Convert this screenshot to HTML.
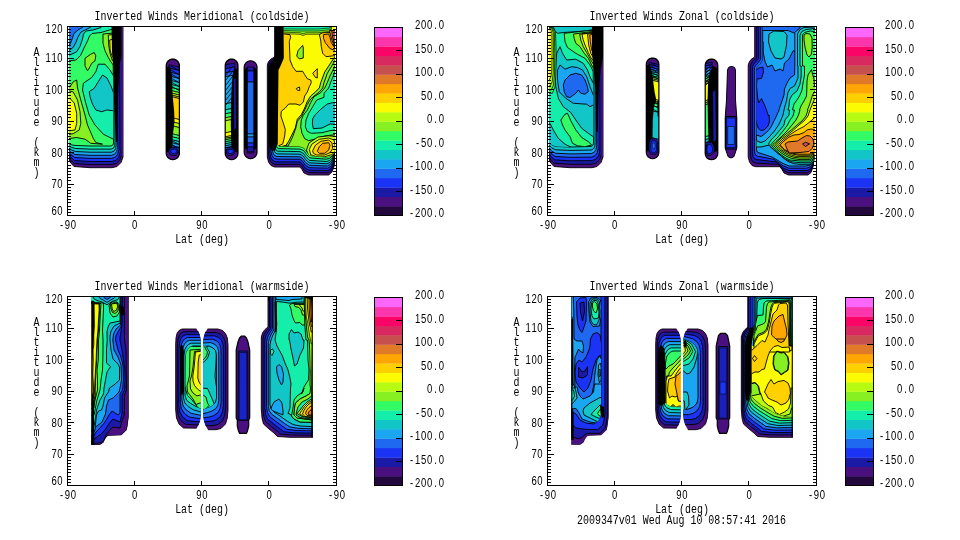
<!DOCTYPE html>
<html><head><meta charset="utf-8"><title>Inverted Winds</title>
<style>html,body{margin:0;padding:0;background:#fff;}svg{display:block;}text{font-family:"Liberation Mono",monospace;font-size:12.4px;fill:#000;filter:grayscale(1);}text.n{font-family:"Liberation Sans",sans-serif;font-size:12.2px;}</style></head><body>
<svg width="960" height="540" viewBox="0 0 960 540">
<rect width="960" height="540" fill="#fff"/>
<clipPath id="clip_TL"><rect x="69" y="27" width="266" height="188"/></clipPath>
<g clip-path="url(#clip_TL)">
<path d="M60.0 20.0L123.0 20.0L123.0 157.0L121.0 162.5L117.0 166.5L112.0 167.7L90.0 167.7L74.0 166.5L70.0 162.0L67.0 155.0L60.0 150.0Z" fill="#4a1080" stroke="#000" stroke-width="0.9" stroke-linejoin="round"/>
<path d="M60.0 20.0L121.6 20.0L121.6 154.6L119.9 159.7L116.4 163.4L111.9 164.6L90.0 164.6L74.3 163.5L70.3 159.6L67.0 153.3L60.0 148.7Z" fill="#1a1aa6" stroke="#000" stroke-width="0.9" stroke-linejoin="round"/>
<path d="M60.0 20.0L120.1 20.0L120.3 152.1L118.9 156.9L115.9 160.4L111.7 161.5L90.0 161.5L74.6 160.5L70.6 157.1L67.0 151.6L60.0 147.4Z" fill="#1a33f5" stroke="#000" stroke-width="0.9" stroke-linejoin="round"/>
<path d="M60.0 20.0L118.7 20.0L118.9 149.7L117.8 154.1L115.3 157.3L111.6 158.4L90.0 158.4L74.9 157.5L70.9 154.7L67.0 149.9L60.0 146.1Z" fill="#1f68f0" stroke="#000" stroke-width="0.9" stroke-linejoin="round"/>
<path d="M60.0 20.0L117.3 20.0L117.6 147.3L116.7 151.4L114.7 154.2L111.4 155.3L90.0 155.3L75.1 154.5L71.1 152.3L67.0 148.1L60.0 144.9Z" fill="#1aa6f0" stroke="#000" stroke-width="0.9" stroke-linejoin="round"/>
<path d="M60.0 20.0L115.9 20.0L116.2 144.9L115.6 148.6L114.1 151.1L111.3 152.2L90.0 152.2L75.4 151.5L71.4 149.9L67.0 146.4L60.0 143.6Z" fill="#12c6c8" stroke="#000" stroke-width="0.9" stroke-linejoin="round"/>
<path d="M60.0 20.0L114.4 20.0L114.9 142.4L114.6 145.8L113.6 148.1L111.1 149.1L90.0 149.1L75.7 148.5L71.7 147.4L67.0 144.7L60.0 142.3Z" fill="#14eeaa" stroke="#000" stroke-width="0.9" stroke-linejoin="round"/>
<path d="M60.0 20.0L113.0 20.0L113.5 140.0L113.5 143.0L113.0 145.0L111.0 146.0L90.0 146.0L76.0 145.5L72.0 145.0L67.0 143.0L60.0 141.0Z" fill="#33fb66" stroke="#000" stroke-width="0.9" stroke-linejoin="round"/>
<clipPath id="tlA"><path d="M60.0 20.0L113.0 20.0L113.5 140.0L113.5 143.0L113.0 145.0L111.0 146.0L90.0 146.0L76.0 145.5L72.0 145.0L67.0 143.0L60.0 141.0Z"/></clipPath><g clip-path="url(#tlA)">
<path d="M60.0 20.0L113.0 20.0L113.0 29.0L106.0 31.0L101.0 32.5L92.0 33.5L89.5 36.0L87.5 41.0L84.0 48.0L80.5 55.5L76.0 60.0L60.0 62.0Z" fill="#14eeaa" stroke="#000" stroke-width="0.9" stroke-linejoin="round"/>
<path d="M60.0 20.0L101.0 20.0L101.0 27.5L93.0 30.0L86.0 31.0L83.5 34.0L82.5 39.0L80.0 46.5L76.5 52.0L70.5 54.7L60.0 56.0Z" fill="#12c6c8" stroke="#000" stroke-width="0.9" stroke-linejoin="round"/>
<path d="M60.0 20.0L91.0 20.0L91.0 27.0L86.0 29.5L81.0 32.0L78.0 37.0L76.0 42.0L73.5 47.0L70.0 50.0L60.0 51.0Z" fill="#1aa6f0" stroke="#000" stroke-width="0.9" stroke-linejoin="round"/>
<path d="M60.0 20.0L83.0 20.0L83.0 27.0L78.0 30.0L74.0 33.5L72.5 38.0L71.0 42.0L69.0 46.0L60.0 47.0Z" fill="#1f68f0" stroke="#000" stroke-width="0.9" stroke-linejoin="round"/>
<path d="M85.0 58.3L90.8 54.2L94.2 52.5L95.8 55.8L95.0 60.8L91.7 63.3L90.0 66.7L87.5 70.8L85.0 65.8Z" fill="#86f022" stroke="#000" stroke-width="0.9" stroke-linejoin="round"/>
<path d="M103.0 34.0L114.0 33.0L114.0 66.0L110.8 61.7L108.3 57.5L105.0 50.8L103.0 43.3Z" fill="#86f022" stroke="#000" stroke-width="0.9" stroke-linejoin="round"/>
<path d="M108.3 35.0L114.0 34.5L114.0 62.0L112.5 60.8L110.0 53.3L108.7 45.0Z" fill="#b8fb12" stroke="#000" stroke-width="0.9" stroke-linejoin="round"/>
<path d="M109.7 40.0L114.0 39.0L114.0 58.0L111.5 55.0L110.2 50.0Z" fill="#fbfb04" stroke="#000" stroke-width="0.9" stroke-linejoin="round"/>
<path d="M98.3 64.2L105.0 64.2L110.0 70.0L114.0 76.7L114.0 139.5L103.3 134.2L95.0 125.0L89.2 115.0L85.8 103.3L82.5 90.0L83.3 83.3L91.7 77.5L95.8 71.7Z" fill="#14eeaa" stroke="#000" stroke-width="0.9" stroke-linejoin="round"/>
<path d="M102.5 75.0L107.0 78.0L111.0 86.0L114.0 94.0L114.0 110.8L106.7 110.0L101.7 111.7L95.8 110.0L92.5 104.2L90.0 96.7L89.2 91.7L94.2 88.3L98.3 81.7Z" fill="#12c6c8" stroke="#000" stroke-width="0.9" stroke-linejoin="round"/>
<path d="M60.0 87.5L70.0 86.7L73.3 81.7L76.7 80.0L77.5 88.0L81.7 103.3L85.0 115.0L87.5 125.0L93.3 138.3L95.8 142.5L102.5 144.2L90.8 143.3L85.0 139.2L76.7 137.5L70.8 138.3L60.0 141.0Z" fill="#86f022" stroke="#000" stroke-width="0.9" stroke-linejoin="round"/>
<path d="M60.0 91.0L69.5 91.0L73.3 92.0L77.5 100.0L80.0 111.7L80.8 123.3L79.2 130.0L73.3 133.7L60.0 135.5Z" fill="#b8fb12" stroke="#000" stroke-width="0.9" stroke-linejoin="round"/>
<path d="M60.0 98.0L70.0 98.5L74.2 103.0L76.7 113.3L76.7 123.3L75.0 130.0L60.0 132.0Z" fill="#fbfb04" stroke="#000" stroke-width="0.9" stroke-linejoin="round"/>
</g>
<path d="M117.5 60.0L121.5 60.0L121.5 152.0L117.5 146.0Z" fill="#1a1aa6"/>
<path d="M121.3 26.0L123.0 26.0L123.0 156.0L121.3 156.0Z" fill="#4a1080"/>
<path d="M111.5 26.0L121.3 26.0L121.5 55.0L119.5 66.0L117.8 100.0L117.5 142.0L116.0 142.0L114.0 100.0L113.3 66.0L112.0 52.0Z" fill="#000"/>
<path d="M119.5 66.0L120.0 150.0" fill="none" stroke="#000" stroke-width="0.7" stroke-linejoin="round"/>
<clipPath id="tlB"><path d="M166.2 65.6L166.4 63.9L167.1 62.3L168.1 60.9L169.5 59.9L171.1 59.2L172.8 59.0L172.8 59.0L174.5 59.2L176.1 59.9L177.5 60.9L178.5 62.3L179.2 63.9L179.4 65.6L179.4 153.1L179.2 154.8L178.5 156.4L177.5 157.8L176.1 158.8L174.5 159.5L172.8 159.7L172.8 159.7L171.1 159.5L169.5 158.8L168.1 157.8L167.1 156.4L166.4 154.8L166.2 153.1Z"/></clipPath><g clip-path="url(#tlB)">
<path d="M166.2 65.6L166.4 63.9L167.1 62.3L168.1 60.9L169.5 59.9L171.1 59.2L172.8 59.0L172.8 59.0L174.5 59.2L176.1 59.9L177.5 60.9L178.5 62.3L179.2 63.9L179.4 65.6L179.4 153.1L179.2 154.8L178.5 156.4L177.5 157.8L176.1 158.8L174.5 159.5L172.8 159.7L172.8 159.7L171.1 159.5L169.5 158.8L168.1 157.8L167.1 156.4L166.4 154.8L166.2 153.1Z" fill="#4a1080" stroke="#000" stroke-width="1.4" stroke-linejoin="round"/>
<path d="M169.0 64.5L181.0 67.5L181.0 71.0L169.0 68.0Z" fill="#1a1aa6" stroke="#000" stroke-width="0.7" stroke-linejoin="round"/>
<path d="M169.0 68.0L181.0 71.0L181.0 75.0L169.0 72.0Z" fill="#1a33f5" stroke="#000" stroke-width="0.7" stroke-linejoin="round"/>
<path d="M169.0 72.0L181.0 75.0L181.0 79.0L169.0 76.0Z" fill="#1f68f0" stroke="#000" stroke-width="0.7" stroke-linejoin="round"/>
<path d="M169.0 76.0L181.0 79.0L181.0 83.0L169.0 80.0Z" fill="#1aa6f0" stroke="#000" stroke-width="0.7" stroke-linejoin="round"/>
<path d="M169.0 80.0L181.0 83.0L181.0 87.0L169.0 84.0Z" fill="#12c6c8" stroke="#000" stroke-width="0.7" stroke-linejoin="round"/>
<path d="M169.0 84.0L181.0 87.0L181.0 90.0L169.0 87.0Z" fill="#14eeaa" stroke="#000" stroke-width="0.7" stroke-linejoin="round"/>
<path d="M169.0 87.0L181.0 90.0L181.0 93.0L169.0 90.0Z" fill="#33fb66" stroke="#000" stroke-width="0.7" stroke-linejoin="round"/>
<path d="M169.0 90.0L181.0 93.0L181.0 95.5L169.0 92.5Z" fill="#86f022" stroke="#000" stroke-width="0.7" stroke-linejoin="round"/>
<path d="M169.0 92.5L181.0 95.5L181.0 97.5L169.0 94.5Z" fill="#b8fb12" stroke="#000" stroke-width="0.7" stroke-linejoin="round"/>
<path d="M169.0 94.5L181.0 97.5L181.0 99.0L169.0 96.0Z" fill="#fbfb04" stroke="#000" stroke-width="0.7" stroke-linejoin="round"/>
<path d="M169.0 96.0L181.0 99.0L181.0 120.0L169.0 117.0Z" fill="#ffd000" stroke="#000" stroke-width="0.7" stroke-linejoin="round"/>
<path d="M169.0 117.0L181.0 120.0L181.0 124.0L169.0 121.0Z" fill="#fbfb04" stroke="#000" stroke-width="0.7" stroke-linejoin="round"/>
<path d="M169.0 121.0L181.0 124.0L181.0 128.0L169.0 125.0Z" fill="#b8fb12" stroke="#000" stroke-width="0.7" stroke-linejoin="round"/>
<path d="M169.0 125.0L181.0 128.0L181.0 136.0L169.0 133.0Z" fill="#86f022" stroke="#000" stroke-width="0.7" stroke-linejoin="round"/>
<path d="M169.0 133.0L181.0 136.0L181.0 139.0L169.0 136.0Z" fill="#33fb66" stroke="#000" stroke-width="0.7" stroke-linejoin="round"/>
<path d="M169.0 136.0L181.0 139.0L181.0 142.0L169.0 139.0Z" fill="#14eeaa" stroke="#000" stroke-width="0.7" stroke-linejoin="round"/>
<path d="M169.0 139.0L181.0 142.0L181.0 145.0L169.0 142.0Z" fill="#12c6c8" stroke="#000" stroke-width="0.7" stroke-linejoin="round"/>
<path d="M169.0 142.0L181.0 145.0L181.0 148.0L169.0 145.0Z" fill="#1aa6f0" stroke="#000" stroke-width="0.7" stroke-linejoin="round"/>
<path d="M169.0 145.0L181.0 148.0L181.0 151.0L169.0 148.0Z" fill="#1f68f0" stroke="#000" stroke-width="0.7" stroke-linejoin="round"/>
<path d="M169.0 148.0L181.0 151.0L181.0 153.5L169.0 150.5Z" fill="#1a33f5" stroke="#000" stroke-width="0.7" stroke-linejoin="round"/>
<path d="M169.0 150.5L181.0 153.5L181.0 156.0L169.0 153.0Z" fill="#1a1aa6" stroke="#000" stroke-width="0.7" stroke-linejoin="round"/>
<path d="M169.0 153.0L181.0 156.0L181.0 160.0L169.0 157.0Z" fill="#4a1080" stroke="#000" stroke-width="0.7" stroke-linejoin="round"/>
<path d="M171.0 66.0L180.0 71.0" fill="none" stroke="#000" stroke-width="0.8" stroke-linejoin="round"/>
<path d="M171.0 70.0L180.0 75.0" fill="none" stroke="#000" stroke-width="0.8" stroke-linejoin="round"/>
<path d="M171.0 74.0L180.0 79.0" fill="none" stroke="#000" stroke-width="0.8" stroke-linejoin="round"/>
<path d="M171.0 78.0L180.0 83.0" fill="none" stroke="#000" stroke-width="0.8" stroke-linejoin="round"/>
<path d="M171.0 82.0L180.0 87.0" fill="none" stroke="#000" stroke-width="0.8" stroke-linejoin="round"/>
<path d="M171.0 86.0L180.0 91.0" fill="none" stroke="#000" stroke-width="0.8" stroke-linejoin="round"/>
<path d="M171.0 140.0L180.0 145.0" fill="none" stroke="#000" stroke-width="0.8" stroke-linejoin="round"/>
<path d="M171.0 144.0L180.0 149.0" fill="none" stroke="#000" stroke-width="0.8" stroke-linejoin="round"/>
<path d="M171.0 148.0L180.0 153.0" fill="none" stroke="#000" stroke-width="0.8" stroke-linejoin="round"/>
<path d="M160.0 70.0L170.0 66.0L172.0 75.0L172.6 95.0L174.2 112.0L174.5 122.0L172.8 135.0L172.3 150.0L169.0 153.0L160.0 150.0Z" fill="#000"/>
<path d="M160.0 154.0L172.0 151.0L181.0 155.0L181.0 162.0L160.0 162.0Z" fill="#4a1080"/>
<path d="M170.0 148.0L176.0 147.0L178.5 151.0L176.0 155.5L170.5 155.0L168.5 151.5Z" fill="#1a1aa6" stroke="#000" stroke-width="0.8" stroke-linejoin="round"/>
<path d="M171.5 149.5L175.5 149.0L176.7 151.3L175.0 153.5L172.0 153.3L170.7 151.5Z" fill="#1a33f5" stroke="#000" stroke-width="0.6" stroke-linejoin="round"/>
</g>
<path d="M166.2 65.6L166.4 63.9L167.1 62.3L168.1 60.9L169.5 59.9L171.1 59.2L172.8 59.0L172.8 59.0L174.5 59.2L176.1 59.9L177.5 60.9L178.5 62.3L179.2 63.9L179.4 65.6L179.4 153.1L179.2 154.8L178.5 156.4L177.5 157.8L176.1 158.8L174.5 159.5L172.8 159.7L172.8 159.7L171.1 159.5L169.5 158.8L168.1 157.8L167.1 156.4L166.4 154.8L166.2 153.1Z" fill="none" stroke="#000" stroke-width="1.2" stroke-linejoin="round"/>
<clipPath id="tlC"><path d="M225.2 65.4L225.4 63.7L226.1 62.2L227.1 60.9L228.4 59.9L229.9 59.2L231.6 59.0L231.6 59.0L233.3 59.2L234.8 59.9L236.1 60.9L237.1 62.2L237.8 63.7L238.0 65.4L238.0 153.3L237.8 155.0L237.1 156.5L236.1 157.8L234.8 158.8L233.3 159.5L231.6 159.7L231.6 159.7L229.9 159.5L228.4 158.8L227.1 157.8L226.1 156.5L225.4 155.0L225.2 153.3Z"/></clipPath><g clip-path="url(#tlC)">
<path d="M225.2 65.4L225.4 63.7L226.1 62.2L227.1 60.9L228.4 59.9L229.9 59.2L231.6 59.0L231.6 59.0L233.3 59.2L234.8 59.9L236.1 60.9L237.1 62.2L237.8 63.7L238.0 65.4L238.0 153.3L237.8 155.0L237.1 156.5L236.1 157.8L234.8 158.8L233.3 159.5L231.6 159.7L231.6 159.7L229.9 159.5L228.4 158.8L227.1 157.8L226.1 156.5L225.4 155.0L225.2 153.3Z" fill="#4a1080" stroke="#000" stroke-width="1.4" stroke-linejoin="round"/>
<path d="M224.0 65.0L235.0 63.0L235.0 67.0L224.0 69.0Z" fill="#1a1aa6" stroke="#000" stroke-width="0.7" stroke-linejoin="round"/>
<path d="M224.0 69.0L235.0 67.0L235.0 71.0L224.0 73.0Z" fill="#1a33f5" stroke="#000" stroke-width="0.7" stroke-linejoin="round"/>
<path d="M224.0 73.0L235.0 71.0L235.0 75.0L224.0 77.0Z" fill="#1f68f0" stroke="#000" stroke-width="0.7" stroke-linejoin="round"/>
<path d="M224.0 77.0L235.0 75.0L235.0 102.0L224.0 104.0Z" fill="#1aa6f0" stroke="#000" stroke-width="0.7" stroke-linejoin="round"/>
<path d="M224.0 104.0L235.0 102.0L235.0 108.0L224.0 110.0Z" fill="#12c6c8" stroke="#000" stroke-width="0.7" stroke-linejoin="round"/>
<path d="M224.0 110.0L235.0 108.0L235.0 112.0L224.0 114.0Z" fill="#14eeaa" stroke="#000" stroke-width="0.7" stroke-linejoin="round"/>
<path d="M224.0 114.0L235.0 112.0L235.0 116.0L224.0 118.0Z" fill="#33fb66" stroke="#000" stroke-width="0.7" stroke-linejoin="round"/>
<path d="M224.0 118.0L235.0 116.0L235.0 119.0L224.0 121.0Z" fill="#86f022" stroke="#000" stroke-width="0.7" stroke-linejoin="round"/>
<path d="M224.0 121.0L235.0 119.0L235.0 131.0L224.0 133.0Z" fill="#b8fb12" stroke="#000" stroke-width="0.7" stroke-linejoin="round"/>
<path d="M224.0 133.0L235.0 131.0L235.0 135.0L224.0 137.0Z" fill="#fbfb04" stroke="#000" stroke-width="0.7" stroke-linejoin="round"/>
<path d="M224.0 137.0L235.0 135.0L235.0 136.5L224.0 138.5Z" fill="#b8fb12" stroke="#000" stroke-width="0.7" stroke-linejoin="round"/>
<path d="M224.0 138.5L235.0 136.5L235.0 138.0L224.0 140.0Z" fill="#86f022" stroke="#000" stroke-width="0.7" stroke-linejoin="round"/>
<path d="M224.0 140.0L235.0 138.0L235.0 140.0L224.0 142.0Z" fill="#33fb66" stroke="#000" stroke-width="0.7" stroke-linejoin="round"/>
<path d="M224.0 142.0L235.0 140.0L235.0 142.0L224.0 144.0Z" fill="#14eeaa" stroke="#000" stroke-width="0.7" stroke-linejoin="round"/>
<path d="M224.0 144.0L235.0 142.0L235.0 144.0L224.0 146.0Z" fill="#12c6c8" stroke="#000" stroke-width="0.7" stroke-linejoin="round"/>
<path d="M224.0 146.0L235.0 144.0L235.0 146.0L224.0 148.0Z" fill="#1aa6f0" stroke="#000" stroke-width="0.7" stroke-linejoin="round"/>
<path d="M224.0 148.0L235.0 146.0L235.0 148.0L224.0 150.0Z" fill="#1f68f0" stroke="#000" stroke-width="0.7" stroke-linejoin="round"/>
<path d="M224.0 150.0L235.0 148.0L235.0 150.0L224.0 152.0Z" fill="#1a33f5" stroke="#000" stroke-width="0.7" stroke-linejoin="round"/>
<path d="M224.0 152.0L235.0 150.0L235.0 152.0L224.0 154.0Z" fill="#1a1aa6" stroke="#000" stroke-width="0.7" stroke-linejoin="round"/>
<path d="M224.0 154.0L235.0 152.0L235.0 155.0L224.0 157.0Z" fill="#4a1080" stroke="#000" stroke-width="0.7" stroke-linejoin="round"/>
<path d="M225.0 76.0L233.0 66.0" fill="none" stroke="#000" stroke-width="0.8" stroke-linejoin="round"/>
<path d="M225.0 81.0L233.0 71.0" fill="none" stroke="#000" stroke-width="0.8" stroke-linejoin="round"/>
<path d="M225.0 86.0L233.0 76.0" fill="none" stroke="#000" stroke-width="0.8" stroke-linejoin="round"/>
<path d="M225.0 91.0L233.0 81.0" fill="none" stroke="#000" stroke-width="0.8" stroke-linejoin="round"/>
<path d="M225.0 96.0L233.0 86.0" fill="none" stroke="#000" stroke-width="0.8" stroke-linejoin="round"/>
<path d="M225.0 101.0L233.0 91.0" fill="none" stroke="#000" stroke-width="0.8" stroke-linejoin="round"/>
<path d="M225.0 106.0L233.0 96.0" fill="none" stroke="#000" stroke-width="0.8" stroke-linejoin="round"/>
<path d="M245.0 72.0L234.0 68.0L232.3 78.0L231.0 100.0L230.8 125.0L231.5 150.0L235.0 153.0L245.0 148.0Z" fill="#000"/>
<path d="M233.8 80.0L235.6 78.0L236.0 128.0L234.2 130.0Z" fill="#1a1aa6"/>
<path d="M220.0 156.0L232.0 151.5L240.0 152.5L240.0 162.0L220.0 162.0Z" fill="#4a1080"/>
<path d="M227.5 147.5L233.0 148.0L235.0 151.5L233.0 155.0L228.0 155.5L226.0 151.5Z" fill="#1a1aa6" stroke="#000" stroke-width="0.8" stroke-linejoin="round"/>
<path d="M228.8 149.3L232.3 149.6L233.3 151.5L232.0 153.4L229.2 153.6L228.0 151.5Z" fill="#1a33f5" stroke="#000" stroke-width="0.6" stroke-linejoin="round"/>
</g>
<path d="M225.2 65.4L225.4 63.7L226.1 62.2L227.1 60.9L228.4 59.9L229.9 59.2L231.6 59.0L231.6 59.0L233.3 59.2L234.8 59.9L236.1 60.9L237.1 62.2L237.8 63.7L238.0 65.4L238.0 153.3L237.8 155.0L237.1 156.5L236.1 157.8L234.8 158.8L233.3 159.5L231.6 159.7L231.6 159.7L229.9 159.5L228.4 158.8L227.1 157.8L226.1 156.5L225.4 155.0L225.2 153.3Z" fill="none" stroke="#000" stroke-width="1.2" stroke-linejoin="round"/>
<path d="M244.2 67.2L244.4 65.5L245.1 64.0L246.1 62.7L247.4 61.7L248.9 61.0L250.6 60.8L250.6 60.8L252.3 61.0L253.8 61.7L255.1 62.7L256.1 64.0L256.8 65.5L257.0 67.2L257.0 152.3L256.8 154.0L256.1 155.5L255.1 156.8L253.8 157.8L252.3 158.5L250.6 158.7L250.6 158.7L248.9 158.5L247.4 157.8L246.1 156.8L245.1 155.5L244.4 154.0L244.2 152.3Z" fill="#4a1080" stroke="#000" stroke-width="1.2" stroke-linejoin="round"/>
<path d="M247.3 67.0L253.8 67.0L253.8 71.0L247.3 71.0Z" fill="#1a1aa6" stroke="#000" stroke-width="0.7" stroke-linejoin="round"/>
<path d="M247.3 71.0L253.8 71.0L253.8 82.0L247.3 82.0Z" fill="#1a33f5" stroke="#000" stroke-width="0.7" stroke-linejoin="round"/>
<path d="M247.3 82.0L253.8 82.0L253.8 134.0L247.3 134.0Z" fill="#1f68f0" stroke="#000" stroke-width="0.7" stroke-linejoin="round"/>
<path d="M247.3 134.0L253.8 134.0L253.8 137.0L247.3 137.0Z" fill="#1aa6f0" stroke="#000" stroke-width="0.7" stroke-linejoin="round"/>
<path d="M247.3 137.0L253.8 137.0L253.8 143.0L247.3 143.0Z" fill="#1f68f0" stroke="#000" stroke-width="0.7" stroke-linejoin="round"/>
<path d="M247.3 143.0L253.8 143.0L253.8 147.0L247.3 147.0Z" fill="#1a33f5" stroke="#000" stroke-width="0.7" stroke-linejoin="round"/>
<path d="M247.3 147.0L253.8 147.0L253.8 152.0L247.3 152.0Z" fill="#1a1aa6" stroke="#000" stroke-width="0.7" stroke-linejoin="round"/>
<path d="M247.3 152.0L253.8 152.0L253.8 153.0L247.3 153.0Z" fill="#4a1080" stroke="#000" stroke-width="0.7" stroke-linejoin="round"/>
<path d="M244.2 70.0L247.4 67.0L247.4 150.0L244.2 148.0Z" fill="#000"/>
<path d="M257.0 70.0L253.8 67.0L253.8 150.0L257.0 148.0Z" fill="#000"/>
<path d="M274.7 20.0L274.7 57.0L271.0 59.0L268.5 61.5L267.3 65.0L267.3 157.0L268.5 162.0L271.0 165.5L274.5 167.0L300.0 167.0L302.0 169.5L304.0 173.0L308.5 175.0L328.7 175.0L332.0 172.0L334.0 166.7L334.7 160.0L335.0 153.0L340.0 150.0L340.0 20.0Z" fill="#4a1080" stroke="#000" stroke-width="0.9" stroke-linejoin="round"/>
<path d="M275.8 20.0L275.8 57.4L272.2 59.6L269.8 62.1L268.6 65.4L268.6 155.2L269.7 159.8L271.9 163.0L275.1 164.4L300.0 164.4L302.2 166.8L304.4 170.4L308.7 172.6L328.4 172.8L331.6 170.1L333.6 165.3L334.5 159.2L335.0 152.6L340.0 149.8L340.0 20.0Z" fill="#1a1aa6" stroke="#000" stroke-width="0.9" stroke-linejoin="round"/>
<path d="M276.9 20.0L276.9 57.8L273.5 60.2L271.1 62.6L269.9 65.8L269.9 153.5L270.8 157.6L272.8 160.5L275.6 161.8L300.0 161.9L302.5 164.1L304.8 167.8L308.9 170.1L328.0 170.5L331.2 168.1L333.2 163.9L334.3 158.5L335.0 152.2L340.0 149.5L340.0 20.0Z" fill="#1a33f5" stroke="#000" stroke-width="0.9" stroke-linejoin="round"/>
<path d="M278.0 20.0L278.0 58.1L274.8 60.9L272.4 63.2L271.1 66.1L271.1 151.8L272.0 155.4L273.7 158.0L276.2 159.1L300.0 159.3L302.8 161.4L305.1 165.1L309.1 167.7L327.7 168.2L330.9 166.2L332.9 162.5L334.1 157.8L335.0 151.9L340.0 149.2L340.0 20.0Z" fill="#1f68f0" stroke="#000" stroke-width="0.9" stroke-linejoin="round"/>
<path d="M279.1 20.0L279.1 58.5L276.0 61.5L273.8 63.8L272.4 66.5L272.4 150.0L273.1 153.2L274.6 155.5L276.8 156.5L300.0 156.8L303.0 158.8L305.5 162.5L309.2 165.2L327.4 166.0L330.5 164.2L332.5 161.1L333.9 157.0L335.0 151.5L340.0 149.0L340.0 20.0Z" fill="#1aa6f0" stroke="#000" stroke-width="0.9" stroke-linejoin="round"/>
<path d="M280.2 20.0L280.2 58.9L277.2 62.1L275.1 64.3L273.7 66.9L273.7 148.2L274.3 151.1L275.5 153.0L277.3 153.9L300.0 154.2L303.2 156.1L305.9 159.9L309.4 162.8L327.0 163.8L330.1 162.3L332.1 159.7L333.6 156.2L335.0 151.1L340.0 148.8L340.0 20.0Z" fill="#12c6c8" stroke="#000" stroke-width="0.9" stroke-linejoin="round"/>
<path d="M281.3 20.0L281.3 59.2L278.5 62.8L276.4 64.9L274.9 67.2L274.9 146.5L275.5 148.9L276.4 150.5L277.9 151.2L300.0 151.6L303.5 153.4L306.2 157.2L309.6 160.4L326.7 161.5L329.8 160.4L331.8 158.3L333.4 155.5L335.0 150.8L340.0 148.5L340.0 20.0Z" fill="#14eeaa" stroke="#000" stroke-width="0.9" stroke-linejoin="round"/>
<path d="M282.4 20.0L282.4 59.6L279.8 63.4L277.7 65.4L276.2 67.6L276.2 144.8L276.6 146.7L277.3 148.0L278.4 148.6L300.0 149.1L303.8 150.7L306.6 154.6L309.8 157.9L326.3 159.2L329.4 158.4L331.4 156.9L333.2 154.8L335.0 150.4L340.0 148.2L340.0 20.0Z" fill="#33fb66" stroke="#000" stroke-width="0.9" stroke-linejoin="round"/>
<path d="M283.5 20.0L283.5 60.0L281.0 64.0L279.0 66.0L277.5 68.0L277.5 143.0L277.8 144.5L278.2 145.5L279.0 146.0L300.0 146.5L304.0 148.0L307.0 152.0L310.0 155.5L326.0 157.0L329.0 156.5L331.0 155.5L333.0 154.0L335.0 150.0L340.0 148.0L340.0 20.0Z" fill="#86f022" stroke="#000" stroke-width="0.9" stroke-linejoin="round"/>
<clipPath id="tlE"><path d="M283.5 20.0L283.5 60.0L281.0 64.0L279.0 66.0L277.5 68.0L277.5 143.0L277.8 144.5L278.2 145.5L279.0 146.0L300.0 146.5L304.0 148.0L307.0 152.0L310.0 155.5L326.0 157.0L329.0 156.5L331.0 155.5L333.0 154.0L335.0 150.0L340.0 148.0L340.0 20.0Z"/></clipPath><g clip-path="url(#tlE)">
<path d="M277.0 20.0L340.0 20.0L340.0 55.0L335.3 55.0L324.2 71.5L320.2 82.2L318.8 88.0L314.8 92.0L310.2 96.0L306.8 101.3L304.2 108.0L300.8 114.7L296.8 119.3L294.8 128.0L290.8 136.0L288.2 141.3L285.5 147.0L277.0 147.0Z" fill="#b8fb12" stroke="#000" stroke-width="0.9" stroke-linejoin="round"/>
<path d="M277.0 20.0L340.0 20.0L340.0 56.0L335.3 56.0L324.7 72.0L320.7 82.7L319.3 88.0L315.3 92.0L310.7 96.0L307.3 101.3L304.7 108.0L301.3 114.7L297.3 119.3L295.3 128.0L291.3 136.0L288.7 141.3L286.0 145.3L279.3 147.0L277.0 147.0Z" fill="#fbfb04" stroke="#000" stroke-width="0.9" stroke-linejoin="round"/>
<path d="M277.0 34.0L284.9 34.0L290.0 34.7L290.7 37.3L289.3 41.3L290.0 60.0L292.7 66.7L296.0 71.3L302.7 71.3L304.7 74.7L307.3 78.7L310.7 80.0L311.3 82.7L309.3 86.7L307.3 92.0L304.7 96.0L303.3 102.0L300.0 105.3L296.0 104.0L288.7 104.0L285.3 108.0L281.3 111.3L280.9 116.0L282.7 121.3L285.3 129.3L284.7 136.0L282.7 144.0L277.0 146.5Z" fill="#ffd000" stroke="#000" stroke-width="0.9" stroke-linejoin="round"/>
<path d="M296.3 88.5L299.5 87.0L299.8 90.5L297.5 90.3Z" fill="#fbfb04" stroke="#000" stroke-width="0.9" stroke-linejoin="round"/>
<path d="M312.7 73.3L317.3 68.7L317.3 78.0L315.3 77.3Z" fill="#ffd000" stroke="#000" stroke-width="0.9" stroke-linejoin="round"/>
<path d="M296.7 56.0L298.0 50.7L302.7 45.3L303.3 48.0L303.3 58.0L299.3 58.9Z" fill="#86f022" stroke="#000" stroke-width="0.9" stroke-linejoin="round"/>
<path d="M283.0 20.0L331.0 20.0L331.0 32.0L325.0 33.5L318.0 34.3L306.0 34.3L303.0 35.5L300.0 34.3L288.0 33.8L283.0 33.0Z" fill="#b8fb12" stroke="#000" stroke-width="0.6" stroke-linejoin="round"/>
<path d="M283.0 20.0L331.0 20.0L331.0 31.0L325.0 32.0L318.0 32.8L306.0 32.8L303.0 33.8L300.0 32.8L288.0 32.3L283.0 32.0Z" fill="#86f022" stroke="#000" stroke-width="0.6" stroke-linejoin="round"/>
<path d="M283.0 20.0L331.0 20.0L331.0 29.5L318.0 31.0L300.0 31.0L288.0 30.6L283.0 30.5Z" fill="#33fb66" stroke="#000" stroke-width="0.6" stroke-linejoin="round"/>
<path d="M283.0 20.0L330.0 20.0L330.0 28.0L318.0 29.0L300.0 29.0L283.0 28.8Z" fill="#14eeaa" stroke="#000" stroke-width="0.6" stroke-linejoin="round"/>
<path d="M319.3 34.7L322.7 32.7L330.7 32.7L340.0 33.3L340.0 55.0L326.0 56.7L322.7 53.3L321.3 46.7L320.7 40.0Z" fill="#ffd000" stroke="#000" stroke-width="0.9" stroke-linejoin="round"/>
<path d="M323.3 34.7L328.7 34.0L330.0 37.3L331.3 42.7L335.3 48.7L340.0 52.0L330.0 48.7L325.3 42.7L323.6 38.7Z" fill="#ffa602" stroke="#000" stroke-width="0.9" stroke-linejoin="round"/>
<path d="M329.5 30.5L340.0 30.5L340.0 50.0L335.0 48.0L332.3 41.0L330.5 35.0Z" fill="#ffa602" stroke="#000" stroke-width="0.9" stroke-linejoin="round"/>
<path d="M331.7 30.5L340.0 30.5L340.0 47.0L335.0 46.0L333.3 40.0L332.2 35.0Z" fill="#c6504e" stroke="#000" stroke-width="0.9" stroke-linejoin="round"/>
<path d="M340.0 59.5L335.3 60.0L327.3 73.3L324.0 82.7L322.7 88.0L319.3 92.0L315.3 95.0L310.7 99.0L307.3 104.3L304.7 110.0L301.3 116.7L297.3 121.3L295.8 128.0L293.0 136.0L290.5 141.3L287.5 147.0L340.0 160.0Z" fill="#86f022" stroke="#000" stroke-width="0.9" stroke-linejoin="round"/>
<path d="M340.0 64.5L335.3 65.3L330.0 76.0L327.3 82.7L324.7 88.0L320.7 92.7L314.0 96.7L310.7 102.7L307.3 110.0L303.3 115.3L301.3 120.0L300.7 126.7L302.0 133.3L304.7 138.7L308.7 140.7L316.7 138.7L324.7 136.0L340.0 134.0Z" fill="#33fb66" stroke="#000" stroke-width="0.9" stroke-linejoin="round"/>
<path d="M340.0 70.0L335.3 70.7L332.7 77.3L330.0 84.0L328.7 88.0L324.0 93.3L324.0 97.3L316.7 100.0L312.7 106.7L308.7 113.3L306.0 120.0L305.3 126.7L307.3 131.3L311.3 133.3L322.0 132.7L330.0 130.7L340.0 129.3Z" fill="#14eeaa" stroke="#000" stroke-width="0.9" stroke-linejoin="round"/>
<path d="M312.7 118.7L315.3 114.7L320.7 109.3L327.3 104.0L332.7 102.7L340.0 103.3L340.0 124.7L330.0 124.0L322.0 128.0L313.3 128.7L312.4 124.0Z" fill="#12c6c8" stroke="#000" stroke-width="0.9" stroke-linejoin="round"/>
<path d="M306.5 150.0L309.0 143.0L318.0 137.0L328.7 135.8L340.0 137.0L340.0 157.0L331.3 157.0L324.7 158.7L316.7 158.7L309.0 156.5Z" fill="#b8fb12" stroke="#000" stroke-width="0.9" stroke-linejoin="round"/>
<path d="M309.3 149.3L312.0 144.0L319.3 139.3L328.7 138.0L334.0 140.0L335.3 146.7L335.3 152.0L331.3 154.7L324.7 156.7L316.7 156.7L310.7 154.7Z" fill="#fbfb04" stroke="#000" stroke-width="0.9" stroke-linejoin="round"/>
<path d="M312.7 150.7L315.3 145.3L320.7 141.3L328.7 140.0L332.0 142.7L332.7 148.7L330.0 152.7L324.7 155.0L316.7 155.0L313.3 153.3Z" fill="#ffd000" stroke="#000" stroke-width="0.9" stroke-linejoin="round"/>
<path d="M317.3 151.3L319.3 146.7L322.7 143.3L328.7 142.7L330.0 145.3L328.7 150.0L324.7 153.3L319.3 153.3Z" fill="#ffa602" stroke="#000" stroke-width="0.9" stroke-linejoin="round"/>
</g>
<path d="M274.7 26.0L283.5 26.0L283.8 58.0L280.5 66.0L278.5 70.0L277.7 143.0L275.0 151.0L271.0 150.0L268.6 143.0L268.0 70.0L270.0 64.0L273.0 60.0L274.7 57.0Z" fill="#000"/>
</g>
<rect x="67.5" y="26.5" width="269" height="189" fill="none" stroke="#000" stroke-width="1"/>
<path d="M134.5 26.5v4.5M134.5 215.5v-4.5M201.5 26.5v4.5M201.5 215.5v-4.5M268.5 26.5v4.5M268.5 215.5v-4.5M67.5 215.5h6.5M336.5 215.5h-6.5M67.5 212.5h3.5M336.5 212.5h-3.5M67.5 209.5h3.5M336.5 209.5h-3.5M67.5 206.5h3.5M336.5 206.5h-3.5M67.5 202.5h3.5M336.5 202.5h-3.5M67.5 199.5h3.5M336.5 199.5h-3.5M67.5 196.5h3.5M336.5 196.5h-3.5M67.5 193.5h3.5M336.5 193.5h-3.5M67.5 190.5h3.5M336.5 190.5h-3.5M67.5 187.5h3.5M336.5 187.5h-3.5M67.5 184.5h6.5M336.5 184.5h-6.5M67.5 180.5h3.5M336.5 180.5h-3.5M67.5 177.5h3.5M336.5 177.5h-3.5M67.5 174.5h3.5M336.5 174.5h-3.5M67.5 171.5h3.5M336.5 171.5h-3.5M67.5 168.5h3.5M336.5 168.5h-3.5M67.5 165.5h3.5M336.5 165.5h-3.5M67.5 161.5h3.5M336.5 161.5h-3.5M67.5 158.5h3.5M336.5 158.5h-3.5M67.5 155.5h3.5M336.5 155.5h-3.5M67.5 152.5h6.5M336.5 152.5h-6.5M67.5 149.5h3.5M336.5 149.5h-3.5M67.5 146.5h3.5M336.5 146.5h-3.5M67.5 143.5h3.5M336.5 143.5h-3.5M67.5 139.5h3.5M336.5 139.5h-3.5M67.5 136.5h3.5M336.5 136.5h-3.5M67.5 133.5h3.5M336.5 133.5h-3.5M67.5 130.5h3.5M336.5 130.5h-3.5M67.5 127.5h3.5M336.5 127.5h-3.5M67.5 124.5h3.5M336.5 124.5h-3.5M67.5 121.5h6.5M336.5 121.5h-6.5M67.5 117.5h3.5M336.5 117.5h-3.5M67.5 114.5h3.5M336.5 114.5h-3.5M67.5 111.5h3.5M336.5 111.5h-3.5M67.5 108.5h3.5M336.5 108.5h-3.5M67.5 105.5h3.5M336.5 105.5h-3.5M67.5 102.5h3.5M336.5 102.5h-3.5M67.5 98.5h3.5M336.5 98.5h-3.5M67.5 95.5h3.5M336.5 95.5h-3.5M67.5 92.5h3.5M336.5 92.5h-3.5M67.5 89.5h6.5M336.5 89.5h-6.5M67.5 86.5h3.5M336.5 86.5h-3.5M67.5 83.5h3.5M336.5 83.5h-3.5M67.5 80.5h3.5M336.5 80.5h-3.5M67.5 76.5h3.5M336.5 76.5h-3.5M67.5 73.5h3.5M336.5 73.5h-3.5M67.5 70.5h3.5M336.5 70.5h-3.5M67.5 67.5h3.5M336.5 67.5h-3.5M67.5 64.5h3.5M336.5 64.5h-3.5M67.5 61.5h3.5M336.5 61.5h-3.5M67.5 58.5h6.5M336.5 58.5h-6.5M67.5 54.5h3.5M336.5 54.5h-3.5M67.5 51.5h3.5M336.5 51.5h-3.5M67.5 48.5h3.5M336.5 48.5h-3.5M67.5 45.5h3.5M336.5 45.5h-3.5M67.5 42.5h3.5M336.5 42.5h-3.5M67.5 39.5h3.5M336.5 39.5h-3.5M67.5 35.5h3.5M336.5 35.5h-3.5M67.5 32.5h3.5M336.5 32.5h-3.5M67.5 29.5h3.5M336.5 29.5h-3.5M67.5 26.5h6.5M336.5 26.5h-6.5" stroke="#000" stroke-width="1" fill="none" shape-rendering="crispEdges"/>
<text x="94.54" y="20.00" textLength="214.92" lengthAdjust="spacingAndGlyphs" xml:space="preserve">Inverted Winds Meridional (coldside)</text>
<text class="n" transform="translate(58.55,229.30) scale(0.78,1)" x="1.80 8.09 15.74">-90</text>
<text class="n" transform="translate(131.76,229.30) scale(0.78,1)" x="0.44">0</text>
<text class="n" transform="translate(196.03,229.30) scale(0.78,1)" x="0.44 8.09">90</text>
<text class="n" transform="translate(266.26,229.30) scale(0.78,1)" x="0.44">0</text>
<text class="n" transform="translate(327.55,229.30) scale(0.78,1)" x="1.80 8.09 15.74">-90</text>
<text x="175.13" y="242.50" textLength="53.73" lengthAdjust="spacingAndGlyphs" xml:space="preserve">Lat (deg)</text>
<text class="n" transform="translate(51.06,214.80) scale(0.78,1)" x="0.44 8.09">60</text>
<text class="n" transform="translate(51.06,188.00) scale(0.78,1)" x="0.44 8.09">70</text>
<text class="n" transform="translate(51.06,156.50) scale(0.78,1)" x="0.44 8.09">80</text>
<text class="n" transform="translate(51.06,125.00) scale(0.78,1)" x="0.44 8.09">90</text>
<text class="n" transform="translate(45.09,93.50) scale(0.78,1)" x="0.44 8.09 15.74">100</text>
<text class="n" transform="translate(45.09,62.00) scale(0.78,1)" x="0.44 8.09 15.74">110</text>
<text class="n" transform="translate(45.09,32.50) scale(0.78,1)" x="0.44 8.09 15.74">120</text>
<text x="33.52" y="55.50" textLength="5.97" lengthAdjust="spacingAndGlyphs" xml:space="preserve">A</text>
<text x="33.52" y="65.55" textLength="5.97" lengthAdjust="spacingAndGlyphs" xml:space="preserve">l</text>
<text x="33.52" y="75.60" textLength="5.97" lengthAdjust="spacingAndGlyphs" xml:space="preserve">t</text>
<text x="33.52" y="85.65" textLength="5.97" lengthAdjust="spacingAndGlyphs" xml:space="preserve">i</text>
<text x="33.52" y="95.70" textLength="5.97" lengthAdjust="spacingAndGlyphs" xml:space="preserve">t</text>
<text x="33.52" y="105.75" textLength="5.97" lengthAdjust="spacingAndGlyphs" xml:space="preserve">u</text>
<text x="33.52" y="115.80" textLength="5.97" lengthAdjust="spacingAndGlyphs" xml:space="preserve">d</text>
<text x="33.52" y="125.85" textLength="5.97" lengthAdjust="spacingAndGlyphs" xml:space="preserve">e</text>
<text x="33.52" y="145.95" textLength="5.97" lengthAdjust="spacingAndGlyphs" xml:space="preserve">(</text>
<text x="33.52" y="156.00" textLength="5.97" lengthAdjust="spacingAndGlyphs" xml:space="preserve">k</text>
<text x="33.52" y="166.05" textLength="5.97" lengthAdjust="spacingAndGlyphs" xml:space="preserve">m</text>
<text x="33.52" y="176.10" textLength="5.97" lengthAdjust="spacingAndGlyphs" xml:space="preserve">)</text>
<rect x="374.5" y="206.10" width="28" height="9.70" fill="#23083e"/>
<rect x="374.5" y="196.70" width="28" height="9.70" fill="#4a1080"/>
<rect x="374.5" y="187.30" width="28" height="9.70" fill="#1a1aa6"/>
<rect x="374.5" y="177.90" width="28" height="9.70" fill="#1a33f5"/>
<rect x="374.5" y="168.50" width="28" height="9.70" fill="#1f68f0"/>
<rect x="374.5" y="159.10" width="28" height="9.70" fill="#1aa6f0"/>
<rect x="374.5" y="149.70" width="28" height="9.70" fill="#12c6c8"/>
<rect x="374.5" y="140.30" width="28" height="9.70" fill="#14eeaa"/>
<rect x="374.5" y="130.90" width="28" height="9.70" fill="#33fb66"/>
<rect x="374.5" y="121.50" width="28" height="9.70" fill="#86f022"/>
<rect x="374.5" y="112.10" width="28" height="9.70" fill="#b8fb12"/>
<rect x="374.5" y="102.70" width="28" height="9.70" fill="#fbfb04"/>
<rect x="374.5" y="93.30" width="28" height="9.70" fill="#ffd000"/>
<rect x="374.5" y="83.90" width="28" height="9.70" fill="#ffa602"/>
<rect x="374.5" y="74.50" width="28" height="9.70" fill="#e07a28"/>
<rect x="374.5" y="65.10" width="28" height="9.70" fill="#c6504e"/>
<rect x="374.5" y="55.70" width="28" height="9.70" fill="#d82a60"/>
<rect x="374.5" y="46.30" width="28" height="9.70" fill="#fb0468"/>
<rect x="374.5" y="36.90" width="28" height="9.70" fill="#fb35ac"/>
<rect x="374.5" y="27.50" width="28" height="9.70" fill="#fb66fb"/>
<rect x="374.5" y="27.5" width="28" height="188" fill="none" stroke="#000"/>
<path d="M402.5 50.50h-7M402.5 74.50h-7M402.5 97.50h-7M402.5 121.50h-7M402.5 144.50h-7M402.5 168.50h-7M402.5 191.50h-7" stroke="#000" stroke-width="1" fill="none" shape-rendering="crispEdges"/>
<text class="n" transform="translate(414.65,29.30) scale(0.78,1)" x="0.44 8.09 15.74 25.09 31.05">200.0</text>
<text class="n" transform="translate(414.65,52.80) scale(0.78,1)" x="0.44 8.09 15.74 25.09 31.05">150.0</text>
<text class="n" transform="translate(414.65,76.30) scale(0.78,1)" x="0.44 8.09 15.74 25.09 31.05">100.0</text>
<text class="n" transform="translate(420.62,99.80) scale(0.78,1)" x="0.44 8.09 17.44 23.40">50.0</text>
<text class="n" transform="translate(426.59,123.30) scale(0.78,1)" x="0.44 9.78 15.74">0.0</text>
<text class="n" transform="translate(414.65,146.80) scale(0.78,1)" x="1.80 8.09 15.74 25.09 31.05">-50.0</text>
<text class="n" transform="translate(408.68,170.30) scale(0.78,1)" x="1.80 8.09 15.74 23.40 32.75 38.70">-100.0</text>
<text class="n" transform="translate(408.68,193.80) scale(0.78,1)" x="1.80 8.09 15.74 23.40 32.75 38.70">-150.0</text>
<text class="n" transform="translate(408.68,217.30) scale(0.78,1)" x="1.80 8.09 15.74 23.40 32.75 38.70">-200.0</text>

<clipPath id="clip_TR"><rect x="549" y="27" width="266" height="188"/></clipPath>
<g clip-path="url(#clip_TR)">
<path d="M540.0 20.0L603.0 20.0L603.0 157.0L601.0 162.5L597.0 166.5L592.0 167.7L570.0 167.7L554.0 166.5L550.0 162.0L547.0 155.0L540.0 150.0Z" fill="#4a1080" stroke="#000" stroke-width="0.9" stroke-linejoin="round"/>
<path d="M540.0 20.0L601.3 20.0L601.4 154.2L599.8 159.2L596.3 162.9L591.8 164.2L570.0 164.2L554.3 163.2L550.3 159.2L547.0 152.7L540.0 148.0Z" fill="#1a1aa6" stroke="#000" stroke-width="0.9" stroke-linejoin="round"/>
<path d="M540.0 20.0L599.7 20.0L599.8 151.3L598.5 156.0L595.7 159.3L591.7 160.6L570.0 160.8L554.7 159.8L550.7 156.3L547.0 150.3L540.0 146.0Z" fill="#1a33f5" stroke="#000" stroke-width="0.9" stroke-linejoin="round"/>
<path d="M540.0 20.0L598.0 20.0L598.2 148.5L597.2 152.8L595.0 155.8L591.5 157.1L570.0 157.3L555.0 156.5L551.0 153.5L547.0 148.0L540.0 144.0Z" fill="#1f68f0" stroke="#000" stroke-width="0.9" stroke-linejoin="round"/>
<path d="M540.0 20.0L596.3 20.0L596.7 145.7L596.0 149.5L594.3 152.2L591.3 153.6L570.0 153.9L555.3 153.2L551.3 150.7L547.0 145.7L540.0 142.0Z" fill="#1aa6f0" stroke="#000" stroke-width="0.9" stroke-linejoin="round"/>
<path d="M540.0 20.0L594.7 20.0L595.1 142.8L594.8 146.2L593.7 148.6L591.2 150.0L570.0 150.4L555.7 149.8L551.7 147.8L547.0 143.3L540.0 140.0Z" fill="#12c6c8" stroke="#000" stroke-width="0.9" stroke-linejoin="round"/>
<path d="M540.0 20.0L593.0 20.0L593.5 140.0L593.5 143.0L593.0 145.0L591.0 146.5L570.0 147.0L556.0 146.5L552.0 145.0L547.0 141.0L540.0 138.0Z" fill="#14eeaa" stroke="#000" stroke-width="0.9" stroke-linejoin="round"/>
<clipPath id="trA"><path d="M540.0 20.0L593.0 20.0L593.5 140.0L593.5 143.0L593.0 145.0L591.0 146.5L570.0 147.0L556.0 146.5L552.0 145.0L547.0 141.0L540.0 138.0Z"/></clipPath><g clip-path="url(#trA)">
<path d="M560.0 46.7L562.5 53.3L566.7 60.0L575.8 59.2L583.3 63.3L587.5 70.0L590.0 76.7L593.3 83.3L597.5 90.0L597.5 110.0L597.5 110.0L597.5 138.3L593.3 136.7L588.3 133.3L581.7 128.3L575.8 120.0L570.8 112.5L563.3 106.7L558.3 98.3L555.8 86.7L555.0 75.0L555.8 63.3L556.7 53.3Z" fill="#12c6c8" stroke="#000" stroke-width="0.9" stroke-linejoin="round"/>
<path d="M560.0 65.0L565.0 69.2L571.7 66.7L577.5 67.5L582.5 70.0L586.7 76.7L590.0 86.7L593.3 95.0L597.5 98.3L597.5 105.0L593.3 105.0L590.0 106.7L586.7 104.2L573.3 103.3L565.8 98.3L559.2 91.7L557.5 80.0L557.5 70.0Z" fill="#1aa6f0" stroke="#000" stroke-width="0.9" stroke-linejoin="round"/>
<path d="M565.0 80.0L570.0 75.0L575.8 73.3L581.7 75.0L585.0 80.0L587.5 86.7L588.3 91.7L585.0 94.2L580.8 93.3L578.3 90.0L575.8 93.3L570.0 97.5L566.7 96.7L564.2 91.7L563.3 85.0Z" fill="#1f68f0" stroke="#000" stroke-width="0.9" stroke-linejoin="round"/>
<path d="M560.8 120.0L565.0 114.2L567.5 113.3L570.8 120.8L575.8 130.0L581.7 137.5L588.3 141.7L591.7 145.0L585.0 146.7L577.5 145.8L572.5 143.3L570.0 136.7L565.0 130.0L562.5 125.0Z" fill="#33fb66" stroke="#000" stroke-width="0.9" stroke-linejoin="round"/>
<path d="M545.0 121.7L550.0 123.3L553.3 130.0L558.3 138.3L565.0 144.2L573.3 148.3L583.3 148.7L593.3 147.5L593.3 156.7L545.0 156.7Z" fill="#12c6c8" stroke="#000" stroke-width="0.9" stroke-linejoin="round"/>
<path d="M552.5 25.0L596.7 25.0L595.0 29.2L586.7 30.8L575.8 31.7L563.3 32.5L557.5 33.3L555.0 30.8Z" fill="#12c6c8" stroke="#000" stroke-width="0.9" stroke-linejoin="round"/>
<path d="M564.2 33.3L575.8 32.0L586.7 30.8L597.5 30.0L597.5 75.0L595.0 75.0L590.0 65.0L585.0 58.3L575.8 53.3L567.5 47.5L565.0 41.7Z" fill="#33fb66" stroke="#000" stroke-width="0.9" stroke-linejoin="round"/>
<path d="M573.3 34.2L580.8 33.0L597.5 30.8L597.5 70.0L593.3 68.3L588.3 58.3L584.2 53.3L580.0 46.7L575.8 43.3L574.2 38.3Z" fill="#86f022" stroke="#000" stroke-width="0.9" stroke-linejoin="round"/>
<path d="M579.7 34.2L597.5 31.7L597.5 68.3L595.0 66.7L590.8 60.0L586.7 52.5L583.3 46.7L580.8 40.0Z" fill="#b8fb12" stroke="#000" stroke-width="0.9" stroke-linejoin="round"/>
<path d="M582.0 34.2L597.5 32.0L597.5 61.7L593.3 60.0L591.7 59.2L588.3 52.5L585.0 45.0L583.0 39.2Z" fill="#fbfb04" stroke="#000" stroke-width="0.9" stroke-linejoin="round"/>
<path d="M587.5 34.2L597.5 32.5L597.5 58.3L593.3 57.5L590.8 53.3L588.7 45.0L588.0 38.3Z" fill="#ffd000" stroke="#000" stroke-width="0.9" stroke-linejoin="round"/>
<path d="M589.7 35.0L597.5 33.3L597.5 54.2L593.3 53.3L591.7 50.0L590.3 41.7Z" fill="#ffa602" stroke="#000" stroke-width="0.9" stroke-linejoin="round"/>
<path d="M545.0 26.7L553.0 27.5L555.5 31.7L556.2 53.3L555.8 75.0L555.0 86.7L552.5 93.3L545.0 93.3Z" fill="#33fb66" stroke="#000" stroke-width="0.7" stroke-linejoin="round"/>
<path d="M545.0 27.0L552.3 27.8L554.3 32.0L554.8 53.3L554.5 75.0L553.5 85.0L551.3 90.0L545.0 90.8Z" fill="#86f022" stroke="#000" stroke-width="0.7" stroke-linejoin="round"/>
<path d="M545.0 27.3L551.7 28.3L553.2 32.5L553.5 53.3L553.2 73.3L552.2 81.7L550.3 85.8L545.0 86.7Z" fill="#b8fb12" stroke="#000" stroke-width="0.7" stroke-linejoin="round"/>
<path d="M545.0 28.0L550.7 29.2L551.8 33.3L552.0 53.3L551.7 70.0L551.0 76.7L549.3 80.0L545.0 80.8Z" fill="#fbfb04" stroke="#000" stroke-width="0.7" stroke-linejoin="round"/>
</g>
<path d="M597.5 58.0L601.5 58.0L601.5 152.0L597.5 146.0Z" fill="#1a1aa6"/>
<path d="M601.3 58.0L603.0 58.0L603.0 156.0L601.3 156.0Z" fill="#4a1080"/>
<path d="M592.0 26.3L603.0 26.3L603.0 57.5L600.7 70.0L599.0 86.7L598.3 103.3L597.7 131.7L596.0 131.7L595.7 110.0L595.3 90.0L594.2 75.0L593.0 63.3L592.0 53.3Z" fill="#000"/>
<path d="M599.7 66.0L600.0 150.0" fill="none" stroke="#000" stroke-width="0.7" stroke-linejoin="round"/>
<clipPath id="trB"><path d="M646.3 64.3L646.5 62.7L647.1 61.1L648.1 59.8L649.4 58.8L651.0 58.2L652.6 58.0L652.6 58.0L654.2 58.2L655.8 58.8L657.1 59.8L658.1 61.1L658.7 62.7L658.9 64.3L658.9 152.3L658.7 153.9L658.1 155.4L657.1 156.8L655.8 157.8L654.2 158.4L652.6 158.6L652.6 158.6L651.0 158.4L649.4 157.8L648.1 156.8L647.1 155.4L646.5 153.9L646.3 152.3Z"/></clipPath><g clip-path="url(#trB)">
<path d="M646.3 64.3L646.5 62.7L647.1 61.1L648.1 59.8L649.4 58.8L651.0 58.2L652.6 58.0L652.6 58.0L654.2 58.2L655.8 58.8L657.1 59.8L658.1 61.1L658.7 62.7L658.9 64.3L658.9 152.3L658.7 153.9L658.1 155.4L657.1 156.8L655.8 157.8L654.2 158.4L652.6 158.6L652.6 158.6L651.0 158.4L649.4 157.8L648.1 156.8L647.1 155.4L646.5 153.9L646.3 152.3Z" fill="#4a1080" stroke="#000" stroke-width="1.4" stroke-linejoin="round"/>
<path d="M649.0 62.0L661.0 65.0L661.0 67.5L649.0 64.5Z" fill="#1a1aa6" stroke="#000" stroke-width="0.7" stroke-linejoin="round"/>
<path d="M649.0 64.5L661.0 67.5L661.0 70.0L649.0 67.0Z" fill="#1a33f5" stroke="#000" stroke-width="0.7" stroke-linejoin="round"/>
<path d="M649.0 67.0L661.0 70.0L661.0 72.0L649.0 69.0Z" fill="#1f68f0" stroke="#000" stroke-width="0.7" stroke-linejoin="round"/>
<path d="M649.0 69.0L661.0 72.0L661.0 74.0L649.0 71.0Z" fill="#1aa6f0" stroke="#000" stroke-width="0.7" stroke-linejoin="round"/>
<path d="M649.0 71.0L661.0 74.0L661.0 76.0L649.0 73.0Z" fill="#12c6c8" stroke="#000" stroke-width="0.7" stroke-linejoin="round"/>
<path d="M649.0 73.0L661.0 76.0L661.0 78.0L649.0 75.0Z" fill="#14eeaa" stroke="#000" stroke-width="0.7" stroke-linejoin="round"/>
<path d="M649.0 75.0L661.0 78.0L661.0 79.5L649.0 76.5Z" fill="#33fb66" stroke="#000" stroke-width="0.7" stroke-linejoin="round"/>
<path d="M649.0 76.5L661.0 79.5L661.0 81.0L649.0 78.0Z" fill="#86f022" stroke="#000" stroke-width="0.7" stroke-linejoin="round"/>
<path d="M649.0 78.0L661.0 81.0L661.0 82.5L649.0 79.5Z" fill="#b8fb12" stroke="#000" stroke-width="0.7" stroke-linejoin="round"/>
<path d="M649.0 79.5L661.0 82.5L661.0 101.0L649.0 98.0Z" fill="#fbfb04" stroke="#000" stroke-width="0.7" stroke-linejoin="round"/>
<path d="M649.0 98.0L661.0 101.0L661.0 103.0L649.0 100.0Z" fill="#b8fb12" stroke="#000" stroke-width="0.7" stroke-linejoin="round"/>
<path d="M649.0 100.0L661.0 103.0L661.0 105.0L649.0 102.0Z" fill="#86f022" stroke="#000" stroke-width="0.7" stroke-linejoin="round"/>
<path d="M649.0 102.0L661.0 105.0L661.0 108.0L649.0 105.0Z" fill="#33fb66" stroke="#000" stroke-width="0.7" stroke-linejoin="round"/>
<path d="M649.0 105.0L661.0 108.0L661.0 113.0L649.0 110.0Z" fill="#14eeaa" stroke="#000" stroke-width="0.7" stroke-linejoin="round"/>
<path d="M649.0 110.0L661.0 113.0L661.0 140.0L649.0 137.0Z" fill="#12c6c8" stroke="#000" stroke-width="0.7" stroke-linejoin="round"/>
<path d="M649.0 137.0L661.0 140.0L661.0 144.0L649.0 141.0Z" fill="#1aa6f0" stroke="#000" stroke-width="0.7" stroke-linejoin="round"/>
<path d="M649.0 141.0L661.0 144.0L661.0 149.0L649.0 146.0Z" fill="#1f68f0" stroke="#000" stroke-width="0.7" stroke-linejoin="round"/>
<path d="M649.0 146.0L661.0 149.0L661.0 153.0L649.0 150.0Z" fill="#1a33f5" stroke="#000" stroke-width="0.7" stroke-linejoin="round"/>
<path d="M649.0 150.0L661.0 153.0L661.0 156.0L649.0 153.0Z" fill="#1a1aa6" stroke="#000" stroke-width="0.7" stroke-linejoin="round"/>
<path d="M649.0 153.0L661.0 156.0L661.0 159.0L649.0 156.0Z" fill="#4a1080" stroke="#000" stroke-width="0.7" stroke-linejoin="round"/>
<path d="M651.0 63.0L660.0 68.0" fill="none" stroke="#000" stroke-width="0.8" stroke-linejoin="round"/>
<path d="M651.0 66.0L660.0 71.0" fill="none" stroke="#000" stroke-width="0.8" stroke-linejoin="round"/>
<path d="M651.0 69.0L660.0 74.0" fill="none" stroke="#000" stroke-width="0.8" stroke-linejoin="round"/>
<path d="M651.0 72.0L660.0 77.0" fill="none" stroke="#000" stroke-width="0.8" stroke-linejoin="round"/>
<path d="M651.0 75.0L660.0 80.0" fill="none" stroke="#000" stroke-width="0.8" stroke-linejoin="round"/>
<path d="M651.0 100.0L660.0 105.0" fill="none" stroke="#000" stroke-width="0.8" stroke-linejoin="round"/>
<path d="M651.0 104.0L660.0 109.0" fill="none" stroke="#000" stroke-width="0.8" stroke-linejoin="round"/>
<path d="M651.0 108.0L660.0 113.0" fill="none" stroke="#000" stroke-width="0.8" stroke-linejoin="round"/>
<path d="M640.0 68.0L650.0 64.0L652.5 75.0L653.3 82.0L654.6 92.0L656.3 100.0L654.0 106.0L652.8 120.0L652.3 150.0L649.0 152.0L640.0 148.0Z" fill="#000"/>
<path d="M657.3 101.0L660.0 100.0L660.0 118.0L657.6 116.0Z" fill="#000"/>
<path d="M640.0 153.0L652.0 150.5L661.0 154.0L661.0 162.0L640.0 162.0Z" fill="#4a1080"/>
<path d="M650.5 139.0L656.0 138.5L658.0 142.0L658.0 151.0L655.5 154.5L650.5 154.0L648.8 150.0L649.0 143.0Z" fill="#1a1aa6" stroke="#000" stroke-width="0.8" stroke-linejoin="round"/>
<path d="M651.8 141.0L655.3 140.7L656.6 143.5L656.5 150.0L655.0 152.5L652.0 152.3L650.8 149.5L650.8 144.0Z" fill="#1a33f5" stroke="#000" stroke-width="0.6" stroke-linejoin="round"/>
<path d="M652.6 143.0L654.8 143.0L655.3 146.0L654.6 149.0L652.8 149.0L652.2 146.0Z" fill="#1f68f0" stroke="#000" stroke-width="0.5" stroke-linejoin="round"/>
</g>
<path d="M646.3 64.3L646.5 62.7L647.1 61.1L648.1 59.8L649.4 58.8L651.0 58.2L652.6 58.0L652.6 58.0L654.2 58.2L655.8 58.8L657.1 59.8L658.1 61.1L658.7 62.7L658.9 64.3L658.9 152.3L658.7 153.9L658.1 155.4L657.1 156.8L655.8 157.8L654.2 158.4L652.6 158.6L652.6 158.6L651.0 158.4L649.4 157.8L648.1 156.8L647.1 155.4L646.5 153.9L646.3 152.3Z" fill="none" stroke="#000" stroke-width="1.2" stroke-linejoin="round"/>
<clipPath id="trC"><path d="M705.2 65.3L705.4 63.7L706.0 62.1L707.0 60.8L708.4 59.8L709.9 59.2L711.5 59.0L711.5 59.0L713.1 59.2L714.6 59.8L716.0 60.8L717.0 62.1L717.6 63.7L717.8 65.3L717.8 153.4L717.6 155.0L717.0 156.5L716.0 157.9L714.6 158.9L713.1 159.5L711.5 159.7L711.5 159.7L709.9 159.5L708.4 158.9L707.0 157.9L706.0 156.5L705.4 155.0L705.2 153.4Z"/></clipPath><g clip-path="url(#trC)">
<path d="M705.2 65.3L705.4 63.7L706.0 62.1L707.0 60.8L708.4 59.8L709.9 59.2L711.5 59.0L711.5 59.0L713.1 59.2L714.6 59.8L716.0 60.8L717.0 62.1L717.6 63.7L717.8 65.3L717.8 153.4L717.6 155.0L717.0 156.5L716.0 157.9L714.6 158.9L713.1 159.5L711.5 159.7L711.5 159.7L709.9 159.5L708.4 158.9L707.0 157.9L706.0 156.5L705.4 155.0L705.2 153.4Z" fill="#4a1080" stroke="#000" stroke-width="1.4" stroke-linejoin="round"/>
<path d="M704.0 64.0L712.0 62.0L712.0 64.5L704.0 66.5Z" fill="#1a1aa6" stroke="#000" stroke-width="0.7" stroke-linejoin="round"/>
<path d="M704.0 66.5L712.0 64.5L712.0 67.0L704.0 69.0Z" fill="#1a33f5" stroke="#000" stroke-width="0.7" stroke-linejoin="round"/>
<path d="M704.0 69.0L712.0 67.0L712.0 70.0L704.0 72.0Z" fill="#1f68f0" stroke="#000" stroke-width="0.7" stroke-linejoin="round"/>
<path d="M704.0 72.0L712.0 70.0L712.0 73.0L704.0 75.0Z" fill="#1aa6f0" stroke="#000" stroke-width="0.7" stroke-linejoin="round"/>
<path d="M704.0 75.0L712.0 73.0L712.0 75.0L704.0 77.0Z" fill="#12c6c8" stroke="#000" stroke-width="0.7" stroke-linejoin="round"/>
<path d="M704.0 77.0L712.0 75.0L712.0 77.0L704.0 79.0Z" fill="#14eeaa" stroke="#000" stroke-width="0.7" stroke-linejoin="round"/>
<path d="M704.0 79.0L712.0 77.0L712.0 79.0L704.0 81.0Z" fill="#33fb66" stroke="#000" stroke-width="0.7" stroke-linejoin="round"/>
<path d="M704.0 81.0L712.0 79.0L712.0 80.5L704.0 82.5Z" fill="#86f022" stroke="#000" stroke-width="0.7" stroke-linejoin="round"/>
<path d="M704.0 82.5L712.0 80.5L712.0 82.0L704.0 84.0Z" fill="#b8fb12" stroke="#000" stroke-width="0.7" stroke-linejoin="round"/>
<path d="M704.0 84.0L712.0 82.0L712.0 99.0L704.0 101.0Z" fill="#fbfb04" stroke="#000" stroke-width="0.7" stroke-linejoin="round"/>
<path d="M704.0 101.0L712.0 99.0L712.0 101.0L704.0 103.0Z" fill="#b8fb12" stroke="#000" stroke-width="0.7" stroke-linejoin="round"/>
<path d="M704.0 103.0L712.0 101.0L712.0 103.0L704.0 105.0Z" fill="#86f022" stroke="#000" stroke-width="0.7" stroke-linejoin="round"/>
<path d="M704.0 105.0L712.0 103.0L712.0 135.0L704.0 137.0Z" fill="#33fb66" stroke="#000" stroke-width="0.7" stroke-linejoin="round"/>
<path d="M704.0 137.0L712.0 135.0L712.0 138.0L704.0 140.0Z" fill="#14eeaa" stroke="#000" stroke-width="0.7" stroke-linejoin="round"/>
<path d="M704.0 140.0L712.0 138.0L712.0 141.0L704.0 143.0Z" fill="#12c6c8" stroke="#000" stroke-width="0.7" stroke-linejoin="round"/>
<path d="M704.0 143.0L712.0 141.0L712.0 144.0L704.0 146.0Z" fill="#1aa6f0" stroke="#000" stroke-width="0.7" stroke-linejoin="round"/>
<path d="M704.0 146.0L712.0 144.0L712.0 147.0L704.0 149.0Z" fill="#1f68f0" stroke="#000" stroke-width="0.7" stroke-linejoin="round"/>
<path d="M704.0 149.0L712.0 147.0L712.0 149.5L704.0 151.5Z" fill="#1a33f5" stroke="#000" stroke-width="0.7" stroke-linejoin="round"/>
<path d="M704.0 151.5L712.0 149.5L712.0 152.0L704.0 154.0Z" fill="#1a1aa6" stroke="#000" stroke-width="0.7" stroke-linejoin="round"/>
<path d="M704.0 154.0L712.0 152.0L712.0 155.0L704.0 157.0Z" fill="#4a1080" stroke="#000" stroke-width="0.7" stroke-linejoin="round"/>
<path d="M705.0 71.0L713.0 63.0" fill="none" stroke="#000" stroke-width="0.8" stroke-linejoin="round"/>
<path d="M705.0 74.0L713.0 66.0" fill="none" stroke="#000" stroke-width="0.8" stroke-linejoin="round"/>
<path d="M705.0 77.0L713.0 69.0" fill="none" stroke="#000" stroke-width="0.8" stroke-linejoin="round"/>
<path d="M705.0 80.0L713.0 72.0" fill="none" stroke="#000" stroke-width="0.8" stroke-linejoin="round"/>
<path d="M705.0 83.0L713.0 75.0" fill="none" stroke="#000" stroke-width="0.8" stroke-linejoin="round"/>
<path d="M705.0 86.0L713.0 78.0" fill="none" stroke="#000" stroke-width="0.8" stroke-linejoin="round"/>
<path d="M725.0 72.0L713.0 66.0L709.5 74.0L708.0 84.0L707.6 100.0L708.0 125.0L708.6 143.0L712.0 153.0L725.0 148.0Z" fill="#000"/>
<path d="M713.0 92.0L715.4 90.0L716.0 140.0L713.5 142.0Z" fill="#1a1aa6"/>
<path d="M700.0 156.0L710.0 152.5L720.0 152.5L720.0 162.0L700.0 162.0Z" fill="#4a1080"/>
<path d="M707.0 142.0L712.0 142.5L714.5 147.0L714.0 152.0L711.0 155.3L707.5 155.5L705.8 151.0Z" fill="#1a1aa6" stroke="#000" stroke-width="0.8" stroke-linejoin="round"/>
<path d="M707.5 144.5L711.0 144.7L712.6 148.0L712.2 151.5L710.3 153.4L707.8 153.6L706.8 150.0Z" fill="#1a33f5" stroke="#000" stroke-width="0.6" stroke-linejoin="round"/>
</g>
<path d="M705.2 65.3L705.4 63.7L706.0 62.1L707.0 60.8L708.4 59.8L709.9 59.2L711.5 59.0L711.5 59.0L713.1 59.2L714.6 59.8L716.0 60.8L717.0 62.1L717.6 63.7L717.8 65.3L717.8 153.4L717.6 155.0L717.0 156.5L716.0 157.9L714.6 158.9L713.1 159.5L711.5 159.7L711.5 159.7L709.9 159.5L708.4 158.9L707.0 157.9L706.0 156.5L705.4 155.0L705.2 153.4Z" fill="none" stroke="#000" stroke-width="1.2" stroke-linejoin="round"/>
<path d="M727.5 70.0L728.5 67.5L730.5 66.5L732.5 66.5L734.5 67.5L735.5 70.0L735.5 100.0L736.8 118.0L736.8 148.0L735.5 152.0L734.0 156.5L732.0 157.7L730.0 157.7L728.0 156.5L726.5 152.0L725.2 148.0L725.2 118.0L726.5 100.0Z" fill="#4a1080" stroke="#000" stroke-width="1.0" stroke-linejoin="round"/>
<path d="M725.6 116.5L736.4 116.5L736.4 149.0L725.6 149.0Z" fill="#1a1aa6" stroke="#000" stroke-width="1.0" stroke-linejoin="round"/>
<path d="M726.6 118.0L735.4 118.0L735.4 147.5L726.6 147.5Z" fill="#1a33f5" stroke="#000" stroke-width="0.6" stroke-linejoin="round"/>
<path d="M727.7 126.5L734.3 126.5L734.3 144.5L727.7 144.5Z" fill="#1f68f0" stroke="#000" stroke-width="0.6" stroke-linejoin="round"/>
<path d="M754.7 20.0L754.7 57.0L751.0 59.5L749.3 62.0L748.2 65.0L748.2 157.0L749.5 162.0L752.0 165.5L755.5 166.7L780.0 166.7L782.0 169.5L784.0 173.0L788.5 175.0L808.0 175.0L811.0 172.5L813.0 167.0L813.7 160.0L815.0 152.0L820.0 150.0L820.0 20.0Z" fill="#4a1080" stroke="#000" stroke-width="0.9" stroke-linejoin="round"/>
<path d="M756.7 20.0L756.7 57.8L753.4 60.6L751.6 63.0L750.3 65.8L750.3 155.0L751.3 159.2L753.3 162.1L756.1 163.1L778.0 164.3L781.0 167.2L783.8 170.6L788.6 172.8L807.5 172.8L810.8 170.6L812.9 166.0L813.8 159.5L815.1 151.5L820.0 149.5L820.0 20.0Z" fill="#1a1aa6" stroke="#000" stroke-width="0.9" stroke-linejoin="round"/>
<path d="M758.7 20.0L758.7 58.5L755.8 61.8L753.9 64.0L752.4 66.5L752.4 153.0L753.1 156.5L754.6 158.8L756.8 159.6L776.0 161.8L780.0 165.0L783.5 168.2L788.8 170.5L807.0 170.5L810.5 168.8L812.8 165.0L813.9 159.0L815.1 151.0L820.0 149.0L820.0 20.0Z" fill="#1a33f5" stroke="#000" stroke-width="0.9" stroke-linejoin="round"/>
<path d="M760.7 20.0L760.7 59.2L758.1 62.9L756.2 65.0L754.4 67.2L754.4 151.0L755.0 153.8L755.9 155.4L757.4 156.1L774.0 159.4L779.0 162.8L783.2 165.9L788.9 168.2L806.5 168.2L810.2 166.9L812.6 164.0L813.9 158.5L815.2 150.5L820.0 148.5L820.0 20.0Z" fill="#1f68f0" stroke="#000" stroke-width="0.9" stroke-linejoin="round"/>
<path d="M762.7 20.0L762.7 60.0L760.5 64.0L758.5 66.0L756.5 68.0L756.5 149.0L756.8 151.0L757.2 152.0L758.0 152.5L772.0 157.0L778.0 160.5L783.0 163.5L789.0 166.0L806.0 166.0L810.0 165.0L812.5 163.0L814.0 158.0L815.3 150.0L820.0 148.0L820.0 20.0Z" fill="#1aa6f0" stroke="#000" stroke-width="0.9" stroke-linejoin="round"/>
<clipPath id="trE"><path d="M762.7 20.0L762.7 60.0L760.5 64.0L758.5 66.0L756.5 68.0L756.5 149.0L756.8 151.0L757.2 152.0L758.0 152.5L772.0 157.0L778.0 160.5L783.0 163.5L789.0 166.0L806.0 166.0L810.0 165.0L812.5 163.0L814.0 158.0L815.3 150.0L820.0 148.0L820.0 20.0Z"/></clipPath><g clip-path="url(#trE)">
<path d="M752.0 42.0L763.2 42.0L763.2 52.0L765.0 61.5L767.5 67.0L772.0 65.0L775.0 71.0L780.0 69.0L783.0 71.0L784.5 63.0L789.0 59.0L792.5 52.0L793.5 50.5L794.8 52.0L794.8 66.0L794.8 66.0L794.5 75.0L790.0 78.0L787.0 83.0L784.5 89.0L784.0 95.0L782.0 101.0L779.5 108.0L778.5 112.0L777.5 113.0L777.0 115.0L774.0 121.0L771.0 127.0L768.5 130.5L764.0 134.5L761.0 136.5L758.0 135.5L752.0 133.5Z" fill="#1f68f0" stroke="#000" stroke-width="0.9" stroke-linejoin="round"/>
<path d="M794.8 33.0L794.8 52.0" fill="none" stroke="#000" stroke-width="0.9" stroke-linejoin="round"/>
<path d="M752.0 73.0L755.0 72.0L756.5 70.0L758.5 68.0L763.0 67.0L763.5 72.0L761.5 78.5L757.0 79.0L756.5 86.0L757.5 96.0L758.5 103.0L761.5 98.5L765.0 106.0L767.5 113.0L768.5 116.0L769.0 115.0L769.5 121.0L768.0 126.0L764.0 130.0L761.0 130.5L758.5 128.5L757.0 125.0L755.0 116.0L754.0 110.0L752.0 106.0Z" fill="#1a33f5" stroke="#000" stroke-width="0.9" stroke-linejoin="round"/>
<path d="M752.0 20.0L800.0 20.0L800.0 28.0L794.0 33.0L788.0 30.5L763.2 30.5L752.0 30.5Z" fill="#1f68f0" stroke="#000" stroke-width="0.9" stroke-linejoin="round"/>
<path d="M769.0 34.0L774.0 31.0L784.0 31.5L787.0 35.0L786.5 45.0L784.0 57.0L781.0 59.0L775.0 58.0L771.0 51.0L768.5 42.0Z" fill="#12c6c8" stroke="#000" stroke-width="0.9" stroke-linejoin="round"/>
<path d="M830.0 10.0L814.5 27.0L804.0 27.5L800.0 29.5L797.5 34.0L797.5 66.0L798.0 66.0L798.0 78.0L794.5 86.0L790.0 88.5L787.8 93.0L786.5 101.0L785.0 106.0L784.0 110.0L784.0 110.0L783.0 115.0L781.0 120.0L778.5 125.0L774.5 131.0L770.0 136.0L765.0 141.0L761.0 142.5L758.0 141.5L755.0 139.0L752.0 139.0L752.0 147.0L755.0 147.0L761.0 147.0L766.0 145.8L769.0 145.2L770.0 146.5L775.0 151.0L780.0 155.0L784.0 158.5L788.0 161.5L794.0 163.7L800.0 164.3L810.0 164.3L813.0 162.0L830.0 190.0Z" fill="#12c6c8" stroke="#000" stroke-width="0.9" stroke-linejoin="round"/>
<path d="M830.0 10.0L814.5 28.5L806.0 29.5L802.0 31.5L800.0 35.0L800.0 66.0L801.2 66.0L801.2 76.0L800.0 84.0L797.0 91.0L792.0 95.0L789.5 100.0L789.0 106.0L788.0 110.0L789.5 110.0L789.0 115.0L785.0 120.0L784.0 125.0L780.0 130.0L775.0 136.0L771.0 140.0L768.5 144.0L772.0 148.0L777.0 152.5L782.0 156.5L786.0 159.5L792.0 161.8L800.0 162.7L810.0 162.7L813.0 160.5L830.0 190.0Z" fill="#14eeaa" stroke="#000" stroke-width="0.9" stroke-linejoin="round"/>
<path d="M830.0 10.0L814.5 31.5L810.0 31.0L804.5 32.5L802.5 35.0L802.5 66.0L804.5 66.0L804.5 75.0L803.0 83.0L802.0 90.0L800.0 95.0L797.0 100.0L794.0 104.0L792.5 110.0L794.5 110.0L793.0 116.0L790.0 120.0L787.5 125.0L783.0 131.0L778.0 137.0L774.0 141.0L771.0 144.5L775.0 149.5L780.0 154.0L785.0 157.5L790.0 160.0L800.0 161.0L810.0 161.0L813.0 159.0L830.0 190.0Z" fill="#33fb66" stroke="#000" stroke-width="0.9" stroke-linejoin="round"/>
<path d="M804.0 35.0L806.0 33.5L810.0 34.0L812.0 38.0L812.2 47.0L811.5 54.0L809.0 57.0L807.0 55.0L805.0 47.0L804.0 40.0Z" fill="#86f022" stroke="#000" stroke-width="0.9" stroke-linejoin="round"/>
<path d="M830.0 10.0L830.0 79.0L814.5 86.0L814.0 79.0L812.5 74.0L811.5 69.5L808.0 75.0L807.0 81.0L806.8 90.0L806.5 96.0L804.0 101.0L801.0 106.0L799.5 110.0L800.0 110.0L798.5 115.0L796.0 120.0L792.0 125.0L787.0 131.0L781.0 137.0L776.0 141.5L773.0 144.5L777.0 149.5L782.0 153.5L787.0 156.5L792.0 158.5L800.0 159.6L810.0 159.6L813.0 157.5L830.0 190.0Z" fill="#86f022" stroke="#000" stroke-width="0.9" stroke-linejoin="round"/>
<path d="M830.0 10.0L830.0 91.5L814.5 91.5L812.5 95.0L811.0 100.0L809.0 106.0L807.5 110.0L808.0 110.0L806.0 116.0L802.0 121.0L797.0 125.0L792.0 129.5L786.0 134.0L780.0 139.0L775.0 144.5L779.0 149.5L784.0 153.0L789.0 155.7L794.0 157.3L800.0 158.0L810.0 158.0L813.0 156.0L830.0 190.0Z" fill="#b8fb12" stroke="#000" stroke-width="0.9" stroke-linejoin="round"/>
<path d="M830.0 10.0L830.0 99.0L814.5 99.0L812.0 105.0L810.0 110.0L810.0 110.0L808.0 116.0L804.0 121.0L799.0 125.0L793.5 130.0L788.0 134.5L782.0 139.0L776.8 144.5L781.0 149.5L786.0 152.7L791.0 155.0L796.0 156.3L810.0 156.7L813.0 154.5L830.0 190.0Z" fill="#fbfb04" stroke="#000" stroke-width="0.9" stroke-linejoin="round"/>
<path d="M830.0 10.0L830.0 117.5L814.5 117.5L812.0 120.0L809.0 122.5L804.0 126.5L798.0 129.5L794.0 132.0L788.0 136.0L783.0 140.0L778.5 144.5L783.0 149.5L788.0 152.3L793.0 154.2L798.0 155.2L810.0 155.3L813.0 153.2L830.0 190.0Z" fill="#ffd000" stroke="#000" stroke-width="0.9" stroke-linejoin="round"/>
<path d="M830.0 10.0L830.0 129.5L814.5 129.5L811.0 129.0L807.0 130.0L804.0 132.5L799.0 134.5L794.0 135.0L789.0 137.0L784.0 141.0L780.0 144.8L784.5 149.5L789.0 152.0L794.0 153.5L799.0 154.2L810.0 154.2L813.0 152.0L830.0 190.0Z" fill="#ffa602" stroke="#000" stroke-width="0.9" stroke-linejoin="round"/>
<path d="M785.0 144.0L788.0 142.0L797.5 141.0L802.0 138.0L806.5 135.5L810.0 136.0L813.0 139.0L814.0 144.0L812.0 148.5L809.0 151.5L800.0 152.5L789.0 153.0L787.0 149.0Z" fill="#e07a28" stroke="#000" stroke-width="0.9" stroke-linejoin="round"/>
<path d="M802.5 144.0L805.5 142.2L809.5 143.8L805.5 146.5Z" fill="#c6504e" stroke="#000" stroke-width="0.9" stroke-linejoin="round"/>
</g>
</g>
<rect x="547.5" y="26.5" width="269" height="189" fill="none" stroke="#000" stroke-width="1"/>
<path d="M614.5 26.5v4.5M614.5 215.5v-4.5M681.5 26.5v4.5M681.5 215.5v-4.5M748.5 26.5v4.5M748.5 215.5v-4.5M547.5 215.5h6.5M816.5 215.5h-6.5M547.5 212.5h3.5M816.5 212.5h-3.5M547.5 209.5h3.5M816.5 209.5h-3.5M547.5 206.5h3.5M816.5 206.5h-3.5M547.5 202.5h3.5M816.5 202.5h-3.5M547.5 199.5h3.5M816.5 199.5h-3.5M547.5 196.5h3.5M816.5 196.5h-3.5M547.5 193.5h3.5M816.5 193.5h-3.5M547.5 190.5h3.5M816.5 190.5h-3.5M547.5 187.5h3.5M816.5 187.5h-3.5M547.5 184.5h6.5M816.5 184.5h-6.5M547.5 180.5h3.5M816.5 180.5h-3.5M547.5 177.5h3.5M816.5 177.5h-3.5M547.5 174.5h3.5M816.5 174.5h-3.5M547.5 171.5h3.5M816.5 171.5h-3.5M547.5 168.5h3.5M816.5 168.5h-3.5M547.5 165.5h3.5M816.5 165.5h-3.5M547.5 161.5h3.5M816.5 161.5h-3.5M547.5 158.5h3.5M816.5 158.5h-3.5M547.5 155.5h3.5M816.5 155.5h-3.5M547.5 152.5h6.5M816.5 152.5h-6.5M547.5 149.5h3.5M816.5 149.5h-3.5M547.5 146.5h3.5M816.5 146.5h-3.5M547.5 143.5h3.5M816.5 143.5h-3.5M547.5 139.5h3.5M816.5 139.5h-3.5M547.5 136.5h3.5M816.5 136.5h-3.5M547.5 133.5h3.5M816.5 133.5h-3.5M547.5 130.5h3.5M816.5 130.5h-3.5M547.5 127.5h3.5M816.5 127.5h-3.5M547.5 124.5h3.5M816.5 124.5h-3.5M547.5 121.5h6.5M816.5 121.5h-6.5M547.5 117.5h3.5M816.5 117.5h-3.5M547.5 114.5h3.5M816.5 114.5h-3.5M547.5 111.5h3.5M816.5 111.5h-3.5M547.5 108.5h3.5M816.5 108.5h-3.5M547.5 105.5h3.5M816.5 105.5h-3.5M547.5 102.5h3.5M816.5 102.5h-3.5M547.5 98.5h3.5M816.5 98.5h-3.5M547.5 95.5h3.5M816.5 95.5h-3.5M547.5 92.5h3.5M816.5 92.5h-3.5M547.5 89.5h6.5M816.5 89.5h-6.5M547.5 86.5h3.5M816.5 86.5h-3.5M547.5 83.5h3.5M816.5 83.5h-3.5M547.5 80.5h3.5M816.5 80.5h-3.5M547.5 76.5h3.5M816.5 76.5h-3.5M547.5 73.5h3.5M816.5 73.5h-3.5M547.5 70.5h3.5M816.5 70.5h-3.5M547.5 67.5h3.5M816.5 67.5h-3.5M547.5 64.5h3.5M816.5 64.5h-3.5M547.5 61.5h3.5M816.5 61.5h-3.5M547.5 58.5h6.5M816.5 58.5h-6.5M547.5 54.5h3.5M816.5 54.5h-3.5M547.5 51.5h3.5M816.5 51.5h-3.5M547.5 48.5h3.5M816.5 48.5h-3.5M547.5 45.5h3.5M816.5 45.5h-3.5M547.5 42.5h3.5M816.5 42.5h-3.5M547.5 39.5h3.5M816.5 39.5h-3.5M547.5 35.5h3.5M816.5 35.5h-3.5M547.5 32.5h3.5M816.5 32.5h-3.5M547.5 29.5h3.5M816.5 29.5h-3.5M547.5 26.5h6.5M816.5 26.5h-6.5" stroke="#000" stroke-width="1" fill="none" shape-rendering="crispEdges"/>
<text x="589.47" y="20.00" textLength="185.07" lengthAdjust="spacingAndGlyphs" xml:space="preserve">Inverted Winds Zonal (coldside)</text>
<text class="n" transform="translate(538.54,229.30) scale(0.78,1)" x="1.80 8.09 15.74">-90</text>
<text class="n" transform="translate(611.76,229.30) scale(0.78,1)" x="0.44">0</text>
<text class="n" transform="translate(676.03,229.30) scale(0.78,1)" x="0.44 8.09">90</text>
<text class="n" transform="translate(746.26,229.30) scale(0.78,1)" x="0.44">0</text>
<text class="n" transform="translate(807.54,229.30) scale(0.78,1)" x="1.80 8.09 15.74">-90</text>
<text x="655.13" y="242.50" textLength="53.73" lengthAdjust="spacingAndGlyphs" xml:space="preserve">Lat (deg)</text>
<text class="n" transform="translate(531.06,214.80) scale(0.78,1)" x="0.44 8.09">60</text>
<text class="n" transform="translate(531.06,188.00) scale(0.78,1)" x="0.44 8.09">70</text>
<text class="n" transform="translate(531.06,156.50) scale(0.78,1)" x="0.44 8.09">80</text>
<text class="n" transform="translate(531.06,125.00) scale(0.78,1)" x="0.44 8.09">90</text>
<text class="n" transform="translate(525.09,93.50) scale(0.78,1)" x="0.44 8.09 15.74">100</text>
<text class="n" transform="translate(525.09,62.00) scale(0.78,1)" x="0.44 8.09 15.74">110</text>
<text class="n" transform="translate(525.09,32.50) scale(0.78,1)" x="0.44 8.09 15.74">120</text>
<text x="513.51" y="55.50" textLength="5.97" lengthAdjust="spacingAndGlyphs" xml:space="preserve">A</text>
<text x="513.51" y="65.55" textLength="5.97" lengthAdjust="spacingAndGlyphs" xml:space="preserve">l</text>
<text x="513.51" y="75.60" textLength="5.97" lengthAdjust="spacingAndGlyphs" xml:space="preserve">t</text>
<text x="513.51" y="85.65" textLength="5.97" lengthAdjust="spacingAndGlyphs" xml:space="preserve">i</text>
<text x="513.51" y="95.70" textLength="5.97" lengthAdjust="spacingAndGlyphs" xml:space="preserve">t</text>
<text x="513.51" y="105.75" textLength="5.97" lengthAdjust="spacingAndGlyphs" xml:space="preserve">u</text>
<text x="513.51" y="115.80" textLength="5.97" lengthAdjust="spacingAndGlyphs" xml:space="preserve">d</text>
<text x="513.51" y="125.85" textLength="5.97" lengthAdjust="spacingAndGlyphs" xml:space="preserve">e</text>
<text x="513.51" y="145.95" textLength="5.97" lengthAdjust="spacingAndGlyphs" xml:space="preserve">(</text>
<text x="513.51" y="156.00" textLength="5.97" lengthAdjust="spacingAndGlyphs" xml:space="preserve">k</text>
<text x="513.51" y="166.05" textLength="5.97" lengthAdjust="spacingAndGlyphs" xml:space="preserve">m</text>
<text x="513.51" y="176.10" textLength="5.97" lengthAdjust="spacingAndGlyphs" xml:space="preserve">)</text>
<rect x="845.5" y="206.10" width="28" height="9.70" fill="#23083e"/>
<rect x="845.5" y="196.70" width="28" height="9.70" fill="#4a1080"/>
<rect x="845.5" y="187.30" width="28" height="9.70" fill="#1a1aa6"/>
<rect x="845.5" y="177.90" width="28" height="9.70" fill="#1a33f5"/>
<rect x="845.5" y="168.50" width="28" height="9.70" fill="#1f68f0"/>
<rect x="845.5" y="159.10" width="28" height="9.70" fill="#1aa6f0"/>
<rect x="845.5" y="149.70" width="28" height="9.70" fill="#12c6c8"/>
<rect x="845.5" y="140.30" width="28" height="9.70" fill="#14eeaa"/>
<rect x="845.5" y="130.90" width="28" height="9.70" fill="#33fb66"/>
<rect x="845.5" y="121.50" width="28" height="9.70" fill="#86f022"/>
<rect x="845.5" y="112.10" width="28" height="9.70" fill="#b8fb12"/>
<rect x="845.5" y="102.70" width="28" height="9.70" fill="#fbfb04"/>
<rect x="845.5" y="93.30" width="28" height="9.70" fill="#ffd000"/>
<rect x="845.5" y="83.90" width="28" height="9.70" fill="#ffa602"/>
<rect x="845.5" y="74.50" width="28" height="9.70" fill="#e07a28"/>
<rect x="845.5" y="65.10" width="28" height="9.70" fill="#c6504e"/>
<rect x="845.5" y="55.70" width="28" height="9.70" fill="#d82a60"/>
<rect x="845.5" y="46.30" width="28" height="9.70" fill="#fb0468"/>
<rect x="845.5" y="36.90" width="28" height="9.70" fill="#fb35ac"/>
<rect x="845.5" y="27.50" width="28" height="9.70" fill="#fb66fb"/>
<rect x="845.5" y="27.5" width="28" height="188" fill="none" stroke="#000"/>
<path d="M873.5 50.50h-7M873.5 74.50h-7M873.5 97.50h-7M873.5 121.50h-7M873.5 144.50h-7M873.5 168.50h-7M873.5 191.50h-7" stroke="#000" stroke-width="1" fill="none" shape-rendering="crispEdges"/>
<text class="n" transform="translate(884.65,29.30) scale(0.78,1)" x="0.44 8.09 15.74 25.09 31.05">200.0</text>
<text class="n" transform="translate(884.65,52.80) scale(0.78,1)" x="0.44 8.09 15.74 25.09 31.05">150.0</text>
<text class="n" transform="translate(884.65,76.30) scale(0.78,1)" x="0.44 8.09 15.74 25.09 31.05">100.0</text>
<text class="n" transform="translate(890.62,99.80) scale(0.78,1)" x="0.44 8.09 17.44 23.40">50.0</text>
<text class="n" transform="translate(896.59,123.30) scale(0.78,1)" x="0.44 9.78 15.74">0.0</text>
<text class="n" transform="translate(884.65,146.80) scale(0.78,1)" x="1.80 8.09 15.74 25.09 31.05">-50.0</text>
<text class="n" transform="translate(878.68,170.30) scale(0.78,1)" x="1.80 8.09 15.74 23.40 32.75 38.70">-100.0</text>
<text class="n" transform="translate(878.68,193.80) scale(0.78,1)" x="1.80 8.09 15.74 23.40 32.75 38.70">-150.0</text>
<text class="n" transform="translate(878.68,217.30) scale(0.78,1)" x="1.80 8.09 15.74 23.40 32.75 38.70">-200.0</text>

<clipPath id="clip_BL"><rect x="69" y="297" width="266" height="188"/></clipPath>
<g clip-path="url(#clip_BL)">
<clipPath id="blA"><path d="M91.3 290.0L128.7 290.0L128.7 416.7L127.7 425.3L126.7 430.0L121.3 435.3L108.0 435.7L105.7 438.0L103.3 442.7L100.0 444.7L91.3 444.7Z"/></clipPath><g clip-path="url(#blA)">
<path d="M91.3 290.0L128.7 290.0L128.7 416.7L127.7 425.3L126.7 430.0L121.3 435.3L108.0 435.7L105.7 438.0L103.3 442.7L100.0 444.7L91.3 444.7Z" fill="#4a1080" stroke="#000" stroke-width="1.2" stroke-linejoin="round"/>
<path d="M85.0 290.0L124.5 290.0L124.5 340.0L126.0 350.0L126.2 370.0L126.5 380.0L126.5 390.0L124.5 395.0L124.5 408.0L124.0 416.0L122.0 421.0L120.0 428.0L113.0 427.0L110.0 430.0L106.0 435.0L104.0 440.0L102.0 442.0L98.0 443.0L93.5 444.0L85.0 446.0Z" fill="#1a1aa6" stroke="#000" stroke-width="0.9" stroke-linejoin="round"/>
<path d="M85.0 290.0L122.5 290.0L122.0 325.0L121.0 332.0L120.0 337.0L120.0 340.0L122.0 350.0L123.5 360.0L124.8 370.0L125.0 380.0L124.5 390.0L122.0 395.0L122.0 413.0L121.0 418.0L120.0 422.0L113.0 419.0L109.5 423.0L105.0 430.0L100.0 435.0L95.0 438.0L93.5 441.0L85.0 446.0Z" fill="#1a33f5" stroke="#000" stroke-width="0.9" stroke-linejoin="round"/>
<path d="M85.0 290.0L121.2 290.0L121.0 327.0L118.0 332.0L116.0 336.0L115.5 340.0L118.0 350.0L121.0 357.0L123.0 365.0L123.5 380.0L122.5 390.0L120.0 394.0L120.0 413.0L118.0 415.0L112.0 411.0L109.0 415.0L105.0 422.0L100.0 428.0L96.0 432.0L94.0 436.0L85.0 446.0Z" fill="#1f68f0" stroke="#000" stroke-width="0.9" stroke-linejoin="round"/>
<path d="M85.0 290.0L120.6 290.0L120.6 325.0L116.0 329.0L113.5 334.0L112.8 340.0L114.0 350.0L118.0 357.0L121.0 365.0L121.5 380.0L120.0 388.0L119.0 392.0L113.0 398.0L108.5 400.0L106.5 406.0L105.5 414.0L102.0 422.0L97.0 426.0L95.0 427.0L94.0 432.0L85.0 446.0Z" fill="#1aa6f0" stroke="#000" stroke-width="0.9" stroke-linejoin="round"/>
<path d="M85.0 290.0L120.3 290.0L120.3 323.0L114.0 326.0L111.0 331.0L110.0 336.0L110.0 340.0L111.0 350.0L113.0 359.0L118.0 364.0L119.5 367.0L119.5 380.0L114.0 385.0L109.5 388.0L108.5 392.0L107.0 394.0L104.5 398.0L103.0 406.0L101.5 410.0L98.5 411.0L96.5 415.0L95.5 424.0L95.0 430.0L85.0 446.0Z" fill="#12c6c8" stroke="#000" stroke-width="0.9" stroke-linejoin="round"/>
<path d="M85.0 290.0L120.0 290.0L120.0 321.0L115.0 322.0L110.0 323.0L108.0 327.0L107.0 332.0L107.2 340.0L106.5 350.0L106.5 360.0L106.5 363.0L110.5 366.5L107.0 372.0L105.5 380.0L104.0 388.0L103.5 394.0L100.0 400.0L96.5 410.0L95.5 418.0L94.5 424.0L85.0 446.0Z" fill="#14eeaa" stroke="#000" stroke-width="0.9" stroke-linejoin="round"/>
<path d="M85.0 302.0L103.5 303.0L103.5 310.0L103.0 320.0L102.5 330.0L103.0 340.0L103.0 350.0L102.8 360.0L102.5 370.0L101.0 380.0L100.0 390.0L97.0 400.0L95.0 410.0L94.0 415.0L85.0 416.0Z" fill="#33fb66" stroke="#000" stroke-width="0.9" stroke-linejoin="round"/>
<path d="M85.0 302.5L101.0 303.5L100.5 310.0L100.0 320.0L99.5 330.0L98.5 340.0L98.5 350.0L98.3 360.0L97.0 370.0L97.5 380.0L97.5 390.0L95.0 400.0L94.0 408.0L85.0 409.0Z" fill="#86f022" stroke="#000" stroke-width="0.9" stroke-linejoin="round"/>
<path d="M85.0 303.0L99.5 303.7L99.6 310.0L99.0 320.0L98.5 330.0L97.5 340.0L97.0 350.0L96.7 360.0L95.9 370.0L95.5 380.0L95.2 390.0L95.2 396.0L94.0 404.0L85.0 405.0Z" fill="#b8fb12" stroke="#000" stroke-width="0.9" stroke-linejoin="round"/>
<path d="M85.0 303.5L99.0 304.0L99.2 310.0L98.5 320.0L98.0 330.0L97.0 340.0L96.5 350.0L96.2 360.0L95.5 370.0L95.0 380.0L94.5 390.0L94.8 396.0L93.8 402.0L85.0 403.0Z" fill="#fbfb04" stroke="#000" stroke-width="0.9" stroke-linejoin="round"/>
<path d="M85.0 325.0L93.6 326.0L93.8 345.0L93.0 350.0L93.2 360.0L92.8 375.0L93.4 385.0L93.5 398.0L92.5 400.0L85.0 401.0Z" fill="#ffd000" stroke="#000" stroke-width="0.9" stroke-linejoin="round"/>
<path d="M92.5 295.0L120.5 295.0L118.0 299.5L112.0 301.5L107.0 304.8L102.0 302.0L97.0 300.5L93.5 298.5Z" fill="#12c6c8" stroke="#000" stroke-width="0.9" stroke-linejoin="round"/>
<path d="M97.5 295.0L117.0 295.0L114.0 298.2L111.0 299.8L107.0 302.5L103.0 299.8L100.0 298.5Z" fill="#1aa6f0" stroke="#000" stroke-width="0.9" stroke-linejoin="round"/>
<path d="M102.0 295.0L113.0 295.0L110.0 297.5L107.0 299.5L104.0 297.5Z" fill="#1f68f0" stroke="#000" stroke-width="0.9" stroke-linejoin="round"/>
<path d="M109.0 305.0L112.0 302.0L117.0 302.0L119.5 305.0L119.5 312.0L117.0 316.0L113.0 317.0L110.0 313.0Z" fill="#33fb66" stroke="#000" stroke-width="0.9" stroke-linejoin="round"/>
<path d="M110.5 304.5L114.0 302.8L117.0 302.8L118.5 305.5L118.0 311.0L115.0 313.5L112.5 312.5L111.0 309.0Z" fill="#86f022" stroke="#000" stroke-width="0.9" stroke-linejoin="round"/>
<path d="M111.5 304.0L116.5 303.2L117.8 306.0L116.5 310.2L113.7 311.5L112.2 309.0Z" fill="#b8fb12" stroke="#000" stroke-width="0.9" stroke-linejoin="round"/>
<path d="M88.0 300.0L94.5 301.0L94.8 326.0L93.2 345.0L92.6 362.0L92.6 392.0L94.0 402.0L94.3 446.0L88.0 446.0Z" fill="#000"/>
<path d="M120.0 306.0L124.0 307.0L124.5 315.0L122.0 315.5L120.0 312.0Z" fill="#000"/>
</g>
<clipPath id="blB"><path d="M170.0 320.0L196.0 320.0L196.5 329.0L198.7 332.0L200.0 336.0L200.7 342.0L200.7 414.0L200.0 421.0L198.5 425.0L196.5 428.5L196.0 435.0L170.0 435.0Z"/></clipPath><g clip-path="url(#blB)">
<path d="M210.0 329.0L182.0 329.0L179.0 330.5L177.0 333.5L176.0 338.0L175.7 345.0L175.7 410.0L176.5 418.0L179.0 424.0L183.5 428.0L210.0 428.3Z" fill="#4a1080" stroke="#000" stroke-width="0.9" stroke-linejoin="round"/>
<path d="M210.0 331.8L183.8 331.8L180.9 333.2L178.9 336.1L177.8 340.3L177.3 347.2L177.2 407.5L178.2 415.0L180.8 420.5L185.4 424.3L210.0 425.6Z" fill="#1a1aa6" stroke="#000" stroke-width="0.9" stroke-linejoin="round"/>
<path d="M210.0 334.7L185.7 334.7L182.8 336.0L180.8 338.7L179.5 342.7L179.0 349.3L178.8 405.0L179.8 412.0L182.7 417.0L187.3 420.7L210.0 422.9Z" fill="#1a33f5" stroke="#000" stroke-width="0.9" stroke-linejoin="round"/>
<path d="M210.0 337.5L187.5 337.5L184.8 338.8L182.8 341.2L181.2 345.0L180.6 351.5L180.3 402.5L181.5 409.0L184.5 413.5L189.2 417.0L210.0 420.1Z" fill="#1f68f0" stroke="#000" stroke-width="0.9" stroke-linejoin="round"/>
<path d="M210.0 340.3L189.3 340.3L186.7 341.5L184.7 343.8L183.0 347.3L182.2 353.7L181.9 400.0L183.2 406.0L186.3 410.0L191.2 413.3L210.0 417.4Z" fill="#1aa6f0" stroke="#000" stroke-width="0.9" stroke-linejoin="round"/>
<path d="M210.0 343.2L191.2 343.2L188.6 344.2L186.6 346.4L184.8 349.7L183.9 355.8L183.4 397.5L184.8 403.0L188.2 406.5L193.1 409.7L210.0 414.7Z" fill="#12c6c8" stroke="#000" stroke-width="0.9" stroke-linejoin="round"/>
<path d="M210.0 346.0L193.0 346.0L190.5 347.0L188.5 349.0L186.5 352.0L185.5 358.0L185.0 395.0L186.5 400.0L190.0 403.0L195.0 406.0L210.0 412.0Z" fill="#14eeaa" stroke="#000" stroke-width="0.9" stroke-linejoin="round"/>
<clipPath id="blBi"><path d="M210.0 346.0L193.0 346.0L190.5 347.0L188.5 349.0L186.5 352.0L185.5 358.0L185.0 395.0L186.5 400.0L190.0 403.0L195.0 406.0L210.0 412.0Z"/></clipPath><g clip-path="url(#blBi)">
<path d="M185.2 346.5L206.0 346.5L206.0 376.0L206.0 376.0L206.0 410.0L200.0 410.5L196.0 405.0L192.0 400.0L187.5 395.5L186.0 391.0L185.0 386.0L185.0 376.0Z" fill="#33fb66" stroke="#000" stroke-width="0.9" stroke-linejoin="round"/>
<path d="M190.0 350.0L206.0 349.0L206.0 376.0L206.0 376.0L206.0 402.0L200.0 403.0L196.0 404.5L193.0 399.0L189.5 394.5L187.5 392.0L187.0 386.0L189.5 376.0L189.8 362.0Z" fill="#86f022" stroke="#000" stroke-width="0.9" stroke-linejoin="round"/>
<path d="M194.5 351.5L206.0 350.0L206.0 376.0L206.0 376.0L206.0 395.0L200.0 395.0L197.0 396.0L193.0 393.0L190.5 389.0L190.0 381.0L191.5 376.0L193.0 367.0L194.0 357.0Z" fill="#b8fb12" stroke="#000" stroke-width="0.9" stroke-linejoin="round"/>
<path d="M195.5 352.0L206.0 350.5L206.0 376.0L206.0 376.0L206.0 391.0L200.0 391.0L197.5 389.0L194.5 385.5L193.0 381.0L192.8 376.0L194.2 367.0L195.0 357.0Z" fill="#fbfb04" stroke="#000" stroke-width="0.9" stroke-linejoin="round"/>
<path d="M199.3 355.0L206.0 354.0L206.0 376.0L206.0 376.0L206.0 384.5L200.5 384.5L199.0 382.0L197.8 378.0L198.0 369.0L198.2 362.0Z" fill="#ffd000" stroke="#000" stroke-width="0.9" stroke-linejoin="round"/>
</g>
<path d="M180.0 347.0L181.8 344.5L183.2 347.0L184.0 352.0L183.8 364.0L184.0 376.0L184.0 376.0L184.1 391.0L182.5 394.5L180.5 395.0L180.0 355.0Z" fill="#000"/>
</g>
<clipPath id="blC"><path d="M235.0 320.0L208.0 320.0L207.5 329.0L205.3 332.0L204.0 336.0L203.2 342.0L203.2 414.0L204.0 421.0L205.5 425.5L208.0 429.7L208.0 435.0L235.0 435.0Z"/></clipPath><g clip-path="url(#blC)">
<path d="M195.0 329.0L218.0 329.0L222.5 330.5L225.5 333.5L227.3 338.0L228.0 345.0L228.0 410.0L227.3 418.0L225.5 424.0L221.0 428.5L216.0 429.7L195.0 429.7Z" fill="#4a1080" stroke="#000" stroke-width="0.9" stroke-linejoin="round"/>
<path d="M195.0 332.6L216.2 332.4L220.6 334.0L223.5 336.9L225.1 341.4L225.7 348.0L225.7 407.6L224.9 414.8L223.0 420.2L218.6 424.2L213.8 425.5L195.0 426.2Z" fill="#1a1aa6" stroke="#000" stroke-width="0.9" stroke-linejoin="round"/>
<path d="M195.0 336.2L214.4 335.8L218.7 337.5L221.5 340.3L223.0 344.8L223.4 351.0L223.4 405.2L222.6 411.6L220.5 416.4L216.2 419.9L211.6 421.2L195.0 422.6Z" fill="#1a33f5" stroke="#000" stroke-width="0.9" stroke-linejoin="round"/>
<path d="M195.0 339.8L212.6 339.2L216.8 341.0L219.5 343.7L220.8 348.2L221.1 354.0L221.1 402.8L220.2 408.4L218.0 412.6L213.8 415.6L209.4 417.0L195.0 419.1Z" fill="#1f68f0" stroke="#000" stroke-width="0.9" stroke-linejoin="round"/>
<path d="M195.0 343.4L210.8 342.6L214.9 344.5L217.5 347.1L218.7 351.6L218.8 357.0L218.8 400.4L217.9 405.2L215.5 408.8L211.4 411.3L207.2 412.7L195.0 415.5Z" fill="#1aa6f0" stroke="#000" stroke-width="0.9" stroke-linejoin="round"/>
<path d="M195.0 347.0L209.0 346.0L213.0 348.0L215.5 350.5L216.5 355.0L216.5 360.0L216.5 398.0L215.5 402.0L213.0 405.0L209.0 407.0L205.0 408.5L195.0 412.0Z" fill="#12c6c8" stroke="#000" stroke-width="0.9" stroke-linejoin="round"/>
<clipPath id="blCi"><path d="M195.0 347.0L209.0 346.0L213.0 348.0L215.5 350.5L216.5 355.0L216.5 360.0L216.5 398.0L215.5 402.0L213.0 405.0L209.0 407.0L205.0 408.5L195.0 412.0Z"/></clipPath><g clip-path="url(#blCi)">
<path d="M200.0 342.5L206.0 343.5L207.0 348.0L209.5 352.0L208.0 357.0L206.0 360.0L203.0 362.5L200.0 363.0Z" fill="#14eeaa" stroke="#000" stroke-width="0.9" stroke-linejoin="round"/>
<path d="M200.0 344.5L204.5 345.5L205.5 349.0L207.5 352.0L206.5 356.0L204.5 358.5L203.0 360.0L200.0 360.5Z" fill="#33fb66" stroke="#000" stroke-width="0.9" stroke-linejoin="round"/>
<path d="M200.0 388.0L207.5 388.5L210.0 394.0L213.0 401.0L215.0 406.0L209.0 408.0L206.0 410.5L203.0 414.0L200.0 414.5Z" fill="#14eeaa" stroke="#000" stroke-width="0.9" stroke-linejoin="round"/>
<path d="M200.0 394.5L203.0 395.0L206.0 397.0L207.5 403.0L209.0 405.5L205.5 409.0L203.0 411.0L200.0 411.5Z" fill="#33fb66" stroke="#000" stroke-width="0.9" stroke-linejoin="round"/>
<path d="M216.5 347.0L216.0 362.0L215.0 376.0L215.0 376.0L216.0 384.0L218.0 396.0L220.0 406.0" fill="none" stroke="#000" stroke-width="0.9" stroke-linejoin="round"/>
</g>
</g>
<path d="M238.0 342.0L239.5 338.0L241.5 336.0L244.5 336.0L246.5 338.0L248.0 342.0L249.7 350.0L249.7 418.0L248.7 420.0L248.7 426.0L247.5 431.0L246.5 433.3L239.5 433.3L238.5 431.0L237.3 426.0L237.3 420.0L236.2 418.0L236.2 350.0Z" fill="#4a1080" stroke="#000" stroke-width="1.2" stroke-linejoin="round"/>
<path d="M238.3 351.0L247.7 351.0L247.9 420.5L238.1 420.5Z" fill="#1a1aa6" stroke="#000" stroke-width="0.8" stroke-linejoin="round"/>
<path d="M239.4 352.5L246.6 352.5L246.9 419.5L239.1 419.5Z" fill="#1a24c4" stroke="#000" stroke-width="0.5" stroke-linejoin="round"/>
<clipPath id="blE"><path d="M255.0 290.0L312.9 290.0L312.9 440.0L255.0 440.0Z"/></clipPath><g clip-path="url(#blE)">
<path d="M268.0 290.0L268.0 327.0L265.0 329.5L262.5 333.0L261.3 337.0L261.3 409.0L262.0 418.0L263.5 424.0L269.0 429.0L274.0 433.0L277.5 436.5L290.0 437.3L320.0 437.3L320.0 290.0Z" fill="#4a1080" stroke="#000" stroke-width="0.9" stroke-linejoin="round"/>
<path d="M269.5 290.0L269.5 327.6L266.6 330.6L264.2 334.4L263.0 338.6L263.0 408.2L263.8 416.2L265.6 421.6L271.2 426.4L276.6 430.6L280.6 434.1L292.0 435.0L320.0 435.2L320.0 290.0Z" fill="#1a1aa6" stroke="#000" stroke-width="0.9" stroke-linejoin="round"/>
<path d="M271.0 290.0L271.0 328.2L268.2 331.7L265.9 335.8L264.8 340.2L264.8 407.4L265.6 414.4L267.7 419.2L273.4 423.8L279.2 428.2L283.7 431.7L294.0 432.8L320.0 433.2L320.0 290.0Z" fill="#1a33f5" stroke="#000" stroke-width="0.9" stroke-linejoin="round"/>
<path d="M272.5 290.0L272.5 328.8L269.8 332.8L267.6 337.2L266.5 341.8L266.5 406.6L267.4 412.6L269.8 416.8L275.6 421.2L281.8 425.8L286.8 429.3L296.0 430.5L320.0 431.1L320.0 290.0Z" fill="#1f68f0" stroke="#000" stroke-width="0.9" stroke-linejoin="round"/>
<path d="M274.0 290.0L274.0 329.4L271.4 333.9L269.3 338.6L268.3 343.4L268.3 405.8L269.2 410.8L271.9 414.4L277.8 418.6L284.4 423.4L289.9 426.9L298.0 428.3L320.0 429.1L320.0 290.0Z" fill="#1aa6f0" stroke="#000" stroke-width="0.9" stroke-linejoin="round"/>
<path d="M275.5 290.0L275.5 330.0L273.0 335.0L271.0 340.0L270.0 345.0L270.0 405.0L271.0 409.0L274.0 412.0L280.0 416.0L287.0 421.0L293.0 424.5L300.0 426.0L320.0 427.0L320.0 290.0Z" fill="#12c6c8" stroke="#000" stroke-width="0.9" stroke-linejoin="round"/>
<clipPath id="blEi"><path d="M275.5 290.0L275.5 330.0L273.0 335.0L271.0 340.0L270.0 345.0L270.0 405.0L271.0 409.0L274.0 412.0L280.0 416.0L287.0 421.0L293.0 424.5L300.0 426.0L320.0 427.0L320.0 290.0Z"/></clipPath><g clip-path="url(#blEi)">
<path d="M276.8 301.0L278.5 301.7L283.0 302.2L290.0 303.2L297.0 302.2L320.0 301.5L320.0 346.0L320.0 422.5L300.0 422.0L294.0 419.0L291.5 416.0L290.0 414.0L288.0 413.5L290.0 408.0L290.5 388.0L291.0 384.0L290.0 378.0L288.0 370.0L285.0 363.0L282.0 355.0L277.0 346.0L275.0 340.0L276.2 332.0L276.2 307.0Z" fill="#14eeaa" stroke="#000" stroke-width="0.9" stroke-linejoin="round"/>
<path d="M289.0 334.0L291.5 329.5L294.0 333.0L298.0 332.0L301.0 334.0L303.0 340.0L304.0 340.0L303.5 348.0L300.0 355.0L297.0 364.0L294.5 366.0L293.0 358.0L291.0 349.0L289.5 340.0L289.0 340.0Z" fill="#12c6c8" stroke="#000" stroke-width="0.9" stroke-linejoin="round"/>
<path d="M276.5 367.0L279.0 364.5L281.5 366.5L283.5 374.0L283.0 382.0L281.5 385.0L279.0 380.0L277.0 373.0Z" fill="#1aa6f0" stroke="#000" stroke-width="0.9" stroke-linejoin="round"/>
<path d="M271.5 407.0L274.0 402.0L279.0 399.0L282.0 403.0L283.0 411.0L283.0 415.0L278.0 413.0L273.0 411.0L271.0 409.0Z" fill="#1aa6f0" stroke="#000" stroke-width="0.9" stroke-linejoin="round"/>
<path d="M270.5 350.0L272.5 349.0L274.0 351.5L272.0 355.5L270.5 354.0Z" fill="#14eeaa" stroke="#000" stroke-width="0.9" stroke-linejoin="round"/>
<path d="M275.0 295.0L302.0 295.0L302.0 299.0L292.0 299.5L289.0 300.5L283.0 300.0L276.5 299.5Z" fill="#1aa6f0" stroke="#000" stroke-width="0.9" stroke-linejoin="round"/>
<path d="M289.5 305.0L292.0 303.5L320.0 303.0L320.0 325.0L302.0 325.0L300.0 322.5L295.5 323.0L294.0 320.5L292.0 315.0L291.0 309.0Z" fill="#33fb66" stroke="#000" stroke-width="0.9" stroke-linejoin="round"/>
<path d="M294.0 304.5L320.0 303.8L320.0 316.0L302.5 315.0L301.0 310.0L299.0 307.5L295.0 306.5Z" fill="#86f022" stroke="#000" stroke-width="0.9" stroke-linejoin="round"/>
<path d="M299.0 304.5L320.0 304.0L320.0 312.0L303.0 311.0L302.0 308.0Z" fill="#b8fb12" stroke="#000" stroke-width="0.9" stroke-linejoin="round"/>
<path d="M304.0 297.0L320.0 297.0L320.0 346.0L320.0 340.0L320.0 394.0L320.0 388.0L320.0 394.0L311.0 393.0L306.0 396.0L300.0 399.0L295.5 403.0L294.5 408.0L294.0 415.0L297.0 418.0L320.0 421.0L320.0 422.5L300.0 422.0L294.0 419.0L291.5 416.0L293.0 408.0L294.0 400.0L297.0 396.0L303.0 392.0L304.0 388.0L301.5 394.0L304.0 387.0L307.0 382.0L308.5 380.0L309.0 370.0L308.0 360.0L307.5 340.0L306.0 340.0L304.8 325.0L304.5 312.0Z" fill="#33fb66" stroke="#000" stroke-width="0.9" stroke-linejoin="round"/>
<path d="M304.8 297.5L320.0 297.5L320.0 346.0L320.0 340.0L320.0 394.0L320.0 388.0L320.0 396.0L311.5 396.0L308.0 399.0L302.0 402.0L298.0 407.0L296.5 412.0L296.0 415.0L300.0 417.5L320.0 420.0L320.0 421.0L297.0 418.0L294.0 415.0L294.5 408.0L295.5 403.0L300.0 399.0L306.0 396.0L310.0 393.5L310.5 388.0L310.0 385.0L310.2 370.0L309.8 350.0L309.0 340.0L307.5 337.0L306.0 322.0L305.0 312.0Z" fill="#86f022" stroke="#000" stroke-width="0.9" stroke-linejoin="round"/>
<path d="M305.5 298.0L320.0 298.0L320.0 346.0L320.0 340.0L320.0 344.0L311.2 344.0L310.6 340.0L309.8 337.0L308.8 330.0L307.6 322.0L306.3 317.0L305.8 307.0Z" fill="#fbfb04" stroke="#000" stroke-width="0.7" stroke-linejoin="round"/>
<path d="M310.6 344.0L311.3 344.0L311.3 370.0L310.9 370.0L310.7 355.0Z" fill="#fbfb04"/>
<path d="M307.2 298.5L320.0 298.5L320.0 332.0L311.2 332.0L310.5 328.0L309.6 325.0L308.4 317.0L307.5 307.0Z" fill="#ffd000" stroke="#000" stroke-width="0.9" stroke-linejoin="round"/>
<path d="M309.0 299.0L320.0 299.0L320.0 326.5L311.4 326.5L310.8 323.0L309.8 317.0L309.2 307.0Z" fill="#ffa602" stroke="#000" stroke-width="0.9" stroke-linejoin="round"/>
<path d="M310.6 299.5L320.0 299.5L320.0 322.0L311.6 322.0L311.2 317.0L310.8 307.0Z" fill="#c6504e" stroke="#000" stroke-width="0.9" stroke-linejoin="round"/>
<path d="M320.0 398.5L312.0 398.5L307.0 402.0L303.0 406.0L300.0 410.0L297.0 413.5L302.0 416.5L320.0 418.5Z" fill="#b8fb12" stroke="#000" stroke-width="0.9" stroke-linejoin="round"/>
<path d="M320.0 400.2L312.0 400.2L308.0 403.0L304.5 406.5L301.7 410.5L299.7 413.7L303.5 416.5L320.0 418.0Z" fill="#fbfb04" stroke="#000" stroke-width="0.9" stroke-linejoin="round"/>
<path d="M320.0 402.0L312.0 402.0L309.0 404.0L306.0 407.0L303.5 411.0L302.5 414.0L305.0 416.5L320.0 417.5Z" fill="#ffd000" stroke="#000" stroke-width="0.9" stroke-linejoin="round"/>
<path d="M320.0 405.0L312.5 405.0L309.0 407.5L306.5 410.5L305.5 413.5L307.0 415.5L320.0 416.5Z" fill="#ffa602" stroke="#000" stroke-width="0.9" stroke-linejoin="round"/>
<path d="M320.0 409.0L312.5 409.0L310.0 410.5L308.0 413.0L309.0 415.0L320.0 415.5Z" fill="#e07a28" stroke="#000" stroke-width="0.9" stroke-linejoin="round"/>
</g>
<path d="M310.8 296.5L312.8 296.5L312.8 346.0L312.8 437.0L311.2 437.0L311.2 388.0L311.7 332.0L312.0 312.0Z" fill="#000"/>
<path d="M275.5 302.0L276.2 325.0L275.5 332.0" fill="none" stroke="#000" stroke-width="2.0" stroke-linejoin="round"/>
</g>
</g>
<rect x="67.5" y="296.5" width="269" height="189" fill="none" stroke="#000" stroke-width="1"/>
<path d="M134.5 296.5v4.5M134.5 485.5v-4.5M201.5 296.5v4.5M201.5 485.5v-4.5M268.5 296.5v4.5M268.5 485.5v-4.5M67.5 485.5h6.5M336.5 485.5h-6.5M67.5 482.5h3.5M336.5 482.5h-3.5M67.5 479.5h3.5M336.5 479.5h-3.5M67.5 476.5h3.5M336.5 476.5h-3.5M67.5 472.5h3.5M336.5 472.5h-3.5M67.5 469.5h3.5M336.5 469.5h-3.5M67.5 466.5h3.5M336.5 466.5h-3.5M67.5 463.5h3.5M336.5 463.5h-3.5M67.5 460.5h3.5M336.5 460.5h-3.5M67.5 457.5h3.5M336.5 457.5h-3.5M67.5 454.5h6.5M336.5 454.5h-6.5M67.5 450.5h3.5M336.5 450.5h-3.5M67.5 447.5h3.5M336.5 447.5h-3.5M67.5 444.5h3.5M336.5 444.5h-3.5M67.5 441.5h3.5M336.5 441.5h-3.5M67.5 438.5h3.5M336.5 438.5h-3.5M67.5 435.5h3.5M336.5 435.5h-3.5M67.5 431.5h3.5M336.5 431.5h-3.5M67.5 428.5h3.5M336.5 428.5h-3.5M67.5 425.5h3.5M336.5 425.5h-3.5M67.5 422.5h6.5M336.5 422.5h-6.5M67.5 419.5h3.5M336.5 419.5h-3.5M67.5 416.5h3.5M336.5 416.5h-3.5M67.5 413.5h3.5M336.5 413.5h-3.5M67.5 409.5h3.5M336.5 409.5h-3.5M67.5 406.5h3.5M336.5 406.5h-3.5M67.5 403.5h3.5M336.5 403.5h-3.5M67.5 400.5h3.5M336.5 400.5h-3.5M67.5 397.5h3.5M336.5 397.5h-3.5M67.5 394.5h3.5M336.5 394.5h-3.5M67.5 391.5h6.5M336.5 391.5h-6.5M67.5 387.5h3.5M336.5 387.5h-3.5M67.5 384.5h3.5M336.5 384.5h-3.5M67.5 381.5h3.5M336.5 381.5h-3.5M67.5 378.5h3.5M336.5 378.5h-3.5M67.5 375.5h3.5M336.5 375.5h-3.5M67.5 372.5h3.5M336.5 372.5h-3.5M67.5 368.5h3.5M336.5 368.5h-3.5M67.5 365.5h3.5M336.5 365.5h-3.5M67.5 362.5h3.5M336.5 362.5h-3.5M67.5 359.5h6.5M336.5 359.5h-6.5M67.5 356.5h3.5M336.5 356.5h-3.5M67.5 353.5h3.5M336.5 353.5h-3.5M67.5 350.5h3.5M336.5 350.5h-3.5M67.5 346.5h3.5M336.5 346.5h-3.5M67.5 343.5h3.5M336.5 343.5h-3.5M67.5 340.5h3.5M336.5 340.5h-3.5M67.5 337.5h3.5M336.5 337.5h-3.5M67.5 334.5h3.5M336.5 334.5h-3.5M67.5 331.5h3.5M336.5 331.5h-3.5M67.5 328.5h6.5M336.5 328.5h-6.5M67.5 324.5h3.5M336.5 324.5h-3.5M67.5 321.5h3.5M336.5 321.5h-3.5M67.5 318.5h3.5M336.5 318.5h-3.5M67.5 315.5h3.5M336.5 315.5h-3.5M67.5 312.5h3.5M336.5 312.5h-3.5M67.5 309.5h3.5M336.5 309.5h-3.5M67.5 305.5h3.5M336.5 305.5h-3.5M67.5 302.5h3.5M336.5 302.5h-3.5M67.5 299.5h3.5M336.5 299.5h-3.5M67.5 296.5h6.5M336.5 296.5h-6.5" stroke="#000" stroke-width="1" fill="none" shape-rendering="crispEdges"/>
<text x="94.54" y="290.00" textLength="214.92" lengthAdjust="spacingAndGlyphs" xml:space="preserve">Inverted Winds Meridional (warmside)</text>
<text class="n" transform="translate(58.55,499.30) scale(0.78,1)" x="1.80 8.09 15.74">-90</text>
<text class="n" transform="translate(131.76,499.30) scale(0.78,1)" x="0.44">0</text>
<text class="n" transform="translate(196.03,499.30) scale(0.78,1)" x="0.44 8.09">90</text>
<text class="n" transform="translate(266.26,499.30) scale(0.78,1)" x="0.44">0</text>
<text class="n" transform="translate(327.55,499.30) scale(0.78,1)" x="1.80 8.09 15.74">-90</text>
<text x="175.13" y="512.50" textLength="53.73" lengthAdjust="spacingAndGlyphs" xml:space="preserve">Lat (deg)</text>
<text class="n" transform="translate(51.06,484.80) scale(0.78,1)" x="0.44 8.09">60</text>
<text class="n" transform="translate(51.06,458.00) scale(0.78,1)" x="0.44 8.09">70</text>
<text class="n" transform="translate(51.06,426.50) scale(0.78,1)" x="0.44 8.09">80</text>
<text class="n" transform="translate(51.06,395.00) scale(0.78,1)" x="0.44 8.09">90</text>
<text class="n" transform="translate(45.09,363.50) scale(0.78,1)" x="0.44 8.09 15.74">100</text>
<text class="n" transform="translate(45.09,332.00) scale(0.78,1)" x="0.44 8.09 15.74">110</text>
<text class="n" transform="translate(45.09,302.50) scale(0.78,1)" x="0.44 8.09 15.74">120</text>
<text x="33.52" y="325.50" textLength="5.97" lengthAdjust="spacingAndGlyphs" xml:space="preserve">A</text>
<text x="33.52" y="335.55" textLength="5.97" lengthAdjust="spacingAndGlyphs" xml:space="preserve">l</text>
<text x="33.52" y="345.60" textLength="5.97" lengthAdjust="spacingAndGlyphs" xml:space="preserve">t</text>
<text x="33.52" y="355.65" textLength="5.97" lengthAdjust="spacingAndGlyphs" xml:space="preserve">i</text>
<text x="33.52" y="365.70" textLength="5.97" lengthAdjust="spacingAndGlyphs" xml:space="preserve">t</text>
<text x="33.52" y="375.75" textLength="5.97" lengthAdjust="spacingAndGlyphs" xml:space="preserve">u</text>
<text x="33.52" y="385.80" textLength="5.97" lengthAdjust="spacingAndGlyphs" xml:space="preserve">d</text>
<text x="33.52" y="395.85" textLength="5.97" lengthAdjust="spacingAndGlyphs" xml:space="preserve">e</text>
<text x="33.52" y="415.95" textLength="5.97" lengthAdjust="spacingAndGlyphs" xml:space="preserve">(</text>
<text x="33.52" y="426.00" textLength="5.97" lengthAdjust="spacingAndGlyphs" xml:space="preserve">k</text>
<text x="33.52" y="436.05" textLength="5.97" lengthAdjust="spacingAndGlyphs" xml:space="preserve">m</text>
<text x="33.52" y="446.10" textLength="5.97" lengthAdjust="spacingAndGlyphs" xml:space="preserve">)</text>
<rect x="374.5" y="476.10" width="28" height="9.70" fill="#23083e"/>
<rect x="374.5" y="466.70" width="28" height="9.70" fill="#4a1080"/>
<rect x="374.5" y="457.30" width="28" height="9.70" fill="#1a1aa6"/>
<rect x="374.5" y="447.90" width="28" height="9.70" fill="#1a33f5"/>
<rect x="374.5" y="438.50" width="28" height="9.70" fill="#1f68f0"/>
<rect x="374.5" y="429.10" width="28" height="9.70" fill="#1aa6f0"/>
<rect x="374.5" y="419.70" width="28" height="9.70" fill="#12c6c8"/>
<rect x="374.5" y="410.30" width="28" height="9.70" fill="#14eeaa"/>
<rect x="374.5" y="400.90" width="28" height="9.70" fill="#33fb66"/>
<rect x="374.5" y="391.50" width="28" height="9.70" fill="#86f022"/>
<rect x="374.5" y="382.10" width="28" height="9.70" fill="#b8fb12"/>
<rect x="374.5" y="372.70" width="28" height="9.70" fill="#fbfb04"/>
<rect x="374.5" y="363.30" width="28" height="9.70" fill="#ffd000"/>
<rect x="374.5" y="353.90" width="28" height="9.70" fill="#ffa602"/>
<rect x="374.5" y="344.50" width="28" height="9.70" fill="#e07a28"/>
<rect x="374.5" y="335.10" width="28" height="9.70" fill="#c6504e"/>
<rect x="374.5" y="325.70" width="28" height="9.70" fill="#d82a60"/>
<rect x="374.5" y="316.30" width="28" height="9.70" fill="#fb0468"/>
<rect x="374.5" y="306.90" width="28" height="9.70" fill="#fb35ac"/>
<rect x="374.5" y="297.50" width="28" height="9.70" fill="#fb66fb"/>
<rect x="374.5" y="297.5" width="28" height="188" fill="none" stroke="#000"/>
<path d="M402.5 320.50h-7M402.5 344.50h-7M402.5 367.50h-7M402.5 391.50h-7M402.5 414.50h-7M402.5 438.50h-7M402.5 461.50h-7" stroke="#000" stroke-width="1" fill="none" shape-rendering="crispEdges"/>
<text class="n" transform="translate(414.65,299.30) scale(0.78,1)" x="0.44 8.09 15.74 25.09 31.05">200.0</text>
<text class="n" transform="translate(414.65,322.80) scale(0.78,1)" x="0.44 8.09 15.74 25.09 31.05">150.0</text>
<text class="n" transform="translate(414.65,346.30) scale(0.78,1)" x="0.44 8.09 15.74 25.09 31.05">100.0</text>
<text class="n" transform="translate(420.62,369.80) scale(0.78,1)" x="0.44 8.09 17.44 23.40">50.0</text>
<text class="n" transform="translate(426.59,393.30) scale(0.78,1)" x="0.44 9.78 15.74">0.0</text>
<text class="n" transform="translate(414.65,416.80) scale(0.78,1)" x="1.80 8.09 15.74 25.09 31.05">-50.0</text>
<text class="n" transform="translate(408.68,440.30) scale(0.78,1)" x="1.80 8.09 15.74 23.40 32.75 38.70">-100.0</text>
<text class="n" transform="translate(408.68,463.80) scale(0.78,1)" x="1.80 8.09 15.74 23.40 32.75 38.70">-150.0</text>
<text class="n" transform="translate(408.68,487.30) scale(0.78,1)" x="1.80 8.09 15.74 23.40 32.75 38.70">-200.0</text>

<clipPath id="clip_BR"><rect x="549" y="297" width="266" height="188"/></clipPath>
<g clip-path="url(#clip_BR)">
<clipPath id="brA"><path d="M571.3 290.0L608.7 290.0L608.7 416.7L607.7 425.3L606.7 430.0L601.3 435.3L588.0 435.7L585.7 438.0L583.3 442.7L580.0 444.7L571.3 444.7Z"/></clipPath><g clip-path="url(#brA)">
<path d="M571.3 290.0L608.7 290.0L608.7 416.7L607.7 425.3L606.7 430.0L601.3 435.3L588.0 435.7L585.7 438.0L583.3 442.7L580.0 444.7L571.3 444.7Z" fill="#4a1080" stroke="#000" stroke-width="0.9" stroke-linejoin="round"/>
<path d="M571.3 290.0L607.3 290.0L607.3 415.5L606.3 423.8L605.1 428.4L600.0 433.3L587.6 433.4L584.7 434.8L582.0 437.5L578.4 438.6L571.3 436.7Z" fill="#1a1aa6" stroke="#000" stroke-width="0.9" stroke-linejoin="round"/>
<path d="M571.3 290.0L604.9 290.0L604.9 413.4L603.9 421.1L602.4 425.5L597.6 429.6L587.0 429.4L582.9 429.0L579.6 428.4L575.6 427.9L571.3 422.4Z" fill="#1a33f5" stroke="#000" stroke-width="0.9" stroke-linejoin="round"/>
<path d="M571.3 290.0L601.0 290.0L601.0 410.0L600.0 417.0L598.0 421.0L594.0 424.0L586.0 423.0L580.0 420.0L576.0 414.0L571.3 411.0L571.3 400.0Z" fill="#1f68f0" stroke="#000" stroke-width="0.9" stroke-linejoin="round"/>
<clipPath id="brAi"><path d="M571.3 290.0L601.0 290.0L601.0 410.0L600.0 417.0L598.0 421.0L594.0 424.0L586.0 423.0L580.0 420.0L576.0 414.0L571.3 411.0L571.3 400.0Z"/></clipPath><g clip-path="url(#brAi)">
<path d="M576.5 302.0L580.0 298.0L586.0 297.5L586.5 304.0L586.0 321.0L583.0 330.0L582.0 332.5L580.0 330.0L578.0 325.0L577.0 317.0Z" fill="#1a33f5" stroke="#000" stroke-width="0.9" stroke-linejoin="round"/>
<path d="M580.0 303.0L584.0 302.0L584.5 312.0L582.5 321.0L580.5 312.0Z" fill="#1a1aa6" stroke="#000" stroke-width="0.9" stroke-linejoin="round"/>
<path d="M590.0 346.0L590.5 339.0L593.0 334.0L597.0 332.5L600.0 335.0L602.0 346.0L602.0 346.0L602.0 350.0L603.0 355.0L599.0 356.0L596.0 360.0L593.0 369.0L591.0 380.0L588.0 388.0L584.0 392.0L580.0 388.0L576.0 382.0L575.0 373.0L576.0 364.0L579.0 360.0L582.0 362.0L586.0 357.0L589.0 350.0L590.0 346.0Z" fill="#1a33f5" stroke="#000" stroke-width="0.9" stroke-linejoin="round"/>
<path d="M578.5 367.0L582.0 372.0L585.0 371.0L587.5 366.5L587.5 375.0L583.0 378.0L578.5 377.0Z" fill="#1a1aa6" stroke="#000" stroke-width="0.9" stroke-linejoin="round"/>
<path d="M588.5 302.0L591.0 298.0L597.0 297.5L600.5 300.0L601.5 307.0L601.0 317.0L599.5 326.0L593.0 326.5L590.0 322.0L589.0 312.0Z" fill="#1aa6f0" stroke="#000" stroke-width="0.9" stroke-linejoin="round"/>
<path d="M590.0 303.0L592.5 299.0L597.0 299.0L599.5 302.0L600.0 312.0L599.0 320.0L596.5 325.0L593.5 324.5L591.0 321.0L590.0 312.0Z" fill="#12c6c8" stroke="#000" stroke-width="0.9" stroke-linejoin="round"/>
<path d="M591.5 303.0L593.5 300.5L596.5 300.5L598.0 303.0L599.0 312.0L598.5 318.0L594.0 319.0L592.0 316.0L591.0 309.0Z" fill="#14eeaa" stroke="#000" stroke-width="0.9" stroke-linejoin="round"/>
<path d="M592.5 303.0L594.5 301.5L597.0 304.0L597.5 309.0L596.0 313.0L593.5 311.0L592.5 307.0Z" fill="#33fb66" stroke="#000" stroke-width="0.9" stroke-linejoin="round"/>
<path d="M570.0 296.0L573.2 296.0L573.8 312.0L574.0 339.0L577.0 341.0L582.0 341.0L583.5 346.0L583.5 346.0L583.0 353.0L580.0 351.0L578.5 349.0L576.5 354.0L575.0 357.0L574.5 370.0L574.8 384.0L576.0 394.0L576.5 394.0L577.0 398.0L573.0 403.0L570.0 404.5Z" fill="#1aa6f0" stroke="#000" stroke-width="0.9" stroke-linejoin="round"/>
<path d="M570.0 317.0L572.2 317.0L572.6 346.0L572.6 360.0L570.0 360.0Z" fill="#12c6c8" stroke="#000" stroke-width="0.9" stroke-linejoin="round"/>
<path d="M570.0 384.0L573.5 384.0L575.0 388.0L575.0 394.0L575.0 394.0L575.5 396.0L573.0 401.0L570.0 403.0Z" fill="#12c6c8" stroke="#000" stroke-width="0.9" stroke-linejoin="round"/>
<path d="M597.0 360.0L599.5 356.0L603.0 362.0L604.5 373.0L604.0 385.0L600.0 394.0L592.0 394.0L594.0 384.0L595.0 373.0Z" fill="#1aa6f0" stroke="#000" stroke-width="0.9" stroke-linejoin="round"/>
<path d="M598.5 365.0L600.5 363.0L601.5 370.0L601.0 380.0L599.5 383.0L598.0 375.0Z" fill="#12c6c8" stroke="#000" stroke-width="0.9" stroke-linejoin="round"/>
<path d="M599.0 370.0L600.2 369.0L600.5 376.0L599.2 377.0Z" fill="#14eeaa" stroke="#000" stroke-width="0.9" stroke-linejoin="round"/>
<path d="M570.0 394.0L576.2 386.5L577.5 388.0L578.0 392.0L580.0 396.0L583.0 399.0L590.0 396.0L593.5 392.0L594.0 388.0L594.7 384.0L602.0 384.0L602.0 424.0L590.0 422.0L582.0 419.0L579.0 413.0L576.0 408.5L570.0 409.0Z" fill="#1aa6f0" stroke="#000" stroke-width="0.9" stroke-linejoin="round"/>
<path d="M584.0 408.0L590.0 403.0L600.0 397.5L602.0 398.0L602.0 422.0L598.0 422.0L590.0 418.0L584.0 415.0L583.0 411.0Z" fill="#12c6c8" stroke="#000" stroke-width="0.9" stroke-linejoin="round"/>
<path d="M591.0 414.5L594.0 411.0L600.0 405.0L602.0 405.5L602.0 418.0L598.0 418.0L594.0 416.0Z" fill="#14eeaa" stroke="#000" stroke-width="0.9" stroke-linejoin="round"/>
<path d="M597.5 413.5L600.0 409.5L602.0 410.0L602.0 416.0L599.5 416.0Z" fill="#33fb66" stroke="#000" stroke-width="0.9" stroke-linejoin="round"/>
<path d="M570.0 388.0L575.0 388.0L576.5 394.0L577.0 398.0L573.0 403.0L570.0 404.5Z" fill="#12c6c8" stroke="#000" stroke-width="0.9" stroke-linejoin="round"/>
<path d="M570.0 390.0L573.5 390.0L574.5 396.0L572.5 400.0L570.0 401.0Z" fill="#14eeaa" stroke="#000" stroke-width="0.9" stroke-linejoin="round"/>
</g>
<path d="M568.0 318.0L573.0 319.0L573.6 384.0L572.4 388.0L572.4 408.0L573.6 412.0L573.6 440.0L568.0 440.0Z" fill="#000"/>
<path d="M600.0 405.0L604.0 407.0L604.5 417.0L602.0 418.0L600.5 413.0Z" fill="#000"/>
</g>
<clipPath id="brB"><path d="M650.0 320.0L676.0 320.0L676.5 329.0L678.7 332.0L680.0 336.0L680.7 342.0L680.7 414.0L680.0 421.0L678.5 425.0L676.5 428.5L676.0 435.0L650.0 435.0Z"/></clipPath><g clip-path="url(#brB)">
<path d="M690.0 329.0L662.0 329.0L659.0 330.5L657.0 333.5L656.0 338.0L655.7 345.0L655.7 410.0L656.5 418.0L659.0 424.0L663.5 428.0L690.0 428.3Z" fill="#4a1080" stroke="#000" stroke-width="0.9" stroke-linejoin="round"/>
<path d="M690.0 332.1L663.6 332.1L660.6 333.6L658.6 336.4L657.5 340.7L657.1 347.6L657.0 408.6L657.9 415.9L660.3 421.3L664.7 424.9L690.0 425.3Z" fill="#1a1aa6" stroke="#000" stroke-width="0.9" stroke-linejoin="round"/>
<path d="M690.0 335.3L665.1 335.3L662.3 336.6L660.3 339.4L659.0 343.4L658.5 350.1L658.4 407.1L659.2 413.7L661.6 418.6L665.9 421.9L690.0 422.2Z" fill="#1a33f5" stroke="#000" stroke-width="0.9" stroke-linejoin="round"/>
<path d="M690.0 338.4L666.7 338.4L663.9 339.7L661.9 342.3L660.5 346.1L659.9 352.7L659.7 405.7L660.6 411.6L662.9 415.9L667.1 418.8L690.0 419.2Z" fill="#1f68f0" stroke="#000" stroke-width="0.9" stroke-linejoin="round"/>
<path d="M690.0 341.6L668.3 341.6L665.6 342.8L663.6 345.2L662.0 348.9L661.3 355.3L661.0 404.3L661.9 409.4L664.1 413.1L668.4 415.7L690.0 416.1Z" fill="#1aa6f0" stroke="#000" stroke-width="0.9" stroke-linejoin="round"/>
<path d="M690.0 344.7L669.9 344.7L667.2 345.9L665.2 348.1L663.5 351.6L662.7 357.9L662.3 402.9L663.3 407.3L665.4 410.4L669.6 412.6L690.0 413.1Z" fill="#12c6c8" stroke="#000" stroke-width="0.9" stroke-linejoin="round"/>
<path d="M690.0 347.9L671.4 347.9L668.9 348.9L666.9 351.1L665.0 354.3L664.1 360.4L663.7 401.4L664.6 405.1L666.7 407.7L670.8 409.6L690.0 410.0Z" fill="#14eeaa" stroke="#000" stroke-width="0.9" stroke-linejoin="round"/>
<path d="M690.0 351.0L673.0 351.0L670.5 352.0L668.5 354.0L666.5 357.0L665.5 363.0L665.0 400.0L666.0 403.0L668.0 405.0L672.0 406.5L690.0 407.0Z" fill="#33fb66" stroke="#000" stroke-width="0.9" stroke-linejoin="round"/>
<clipPath id="brBi"><path d="M690.0 351.0L673.0 351.0L670.5 352.0L668.5 354.0L666.5 357.0L665.5 363.0L665.0 400.0L666.0 403.0L668.0 405.0L672.0 406.5L690.0 407.0Z"/></clipPath><g clip-path="url(#brBi)">
<path d="M686.0 356.0L680.5 356.0L676.0 361.0L673.0 364.0L669.0 366.0L666.0 369.0L661.0 369.0L661.0 376.0L661.0 376.0L661.0 409.0L686.0 409.0Z" fill="#86f022" stroke="#000" stroke-width="0.9" stroke-linejoin="round"/>
<path d="M686.0 360.0L680.5 360.0L677.0 364.0L673.0 368.0L669.5 372.0L668.5 376.0L666.5 376.0L666.0 386.0L666.0 405.0L670.0 408.2L673.0 405.7L676.0 408.2L679.0 407.2L686.0 407.2Z" fill="#b8fb12" stroke="#000" stroke-width="0.9" stroke-linejoin="round"/>
<path d="M686.0 364.0L680.5 364.0L677.0 368.0L674.0 372.0L671.0 376.0L667.5 376.0L666.0 381.0L666.0 405.0L670.0 407.0L673.0 404.5L676.0 407.0L679.0 406.0L686.0 406.0Z" fill="#fbfb04" stroke="#000" stroke-width="0.9" stroke-linejoin="round"/>
<path d="M686.0 368.0L680.5 368.0L678.0 371.0L675.5 375.0L675.0 377.0L669.0 379.0L668.0 384.0L667.5 391.0L669.5 398.0L672.0 396.0L675.0 397.0L677.0 396.0L678.5 401.0L686.0 402.0Z" fill="#ffd000" stroke="#000" stroke-width="0.9" stroke-linejoin="round"/>
<path d="M686.0 372.0L680.5 372.0L679.0 374.0L676.0 376.0L675.0 384.0L677.0 394.0L678.5 401.0L686.0 402.0Z" fill="#ffa602" stroke="#000" stroke-width="0.9" stroke-linejoin="round"/>
</g>
<path d="M658.2 349.0L661.0 345.0L664.0 348.0L665.0 354.0L665.5 376.0L665.5 376.0L665.5 403.0L661.0 406.0L657.8 403.0L657.5 364.0Z" fill="#000"/>
</g>
<clipPath id="brC"><path d="M715.0 320.0L688.0 320.0L687.5 329.0L685.3 332.0L684.0 336.0L683.2 342.0L683.2 414.0L684.0 421.0L685.5 425.5L688.0 429.7L688.0 435.0L715.0 435.0Z"/></clipPath><g clip-path="url(#brC)">
<path d="M675.0 329.0L698.0 329.0L702.5 330.5L705.5 333.5L707.3 338.0L708.0 345.0L708.0 410.0L707.3 418.0L705.5 424.0L701.0 428.5L696.0 429.7L675.0 429.7Z" fill="#4a1080" stroke="#000" stroke-width="0.9" stroke-linejoin="round"/>
<path d="M675.0 330.8L696.2 332.2L700.6 334.2L703.4 337.4L705.0 342.2L705.5 348.8L705.5 407.0L704.7 414.2L702.6 419.6L698.2 423.5L693.5 424.6L675.0 424.6Z" fill="#1a1aa6" stroke="#000" stroke-width="0.9" stroke-linejoin="round"/>
<path d="M675.0 332.5L694.5 335.5L698.8 338.0L701.2 341.2L702.6 346.5L703.0 352.5L703.0 404.0L702.1 410.5L699.8 415.2L695.5 418.5L691.0 419.6L675.0 419.6Z" fill="#1a33f5" stroke="#000" stroke-width="0.9" stroke-linejoin="round"/>
<path d="M675.0 334.2L692.8 338.8L696.9 341.8L699.1 345.1L700.3 350.8L700.5 356.2L700.5 401.0L699.6 406.8L696.9 410.9L692.8 413.5L688.5 414.6L675.0 414.6Z" fill="#1f68f0" stroke="#000" stroke-width="0.9" stroke-linejoin="round"/>
<path d="M675.0 336.0L691.0 342.0L695.0 345.5L697.0 349.0L698.0 355.0L698.0 360.0L698.0 398.0L697.0 403.0L694.0 406.5L690.0 408.5L686.0 409.5L675.0 409.5Z" fill="#1aa6f0" stroke="#000" stroke-width="0.9" stroke-linejoin="round"/>
<clipPath id="brCi"><path d="M675.0 336.0L691.0 342.0L695.0 345.5L697.0 349.0L698.0 355.0L698.0 360.0L698.0 398.0L697.0 403.0L694.0 406.5L690.0 408.5L686.0 409.5L675.0 409.5Z"/></clipPath><g clip-path="url(#brCi)">
<path d="M680.0 337.0L683.5 337.0L694.0 343.0L698.0 350.0L697.0 357.0L694.0 367.0L690.0 373.0L687.0 374.0L683.5 371.0L680.0 371.0Z" fill="#12c6c8" stroke="#000" stroke-width="0.9" stroke-linejoin="round"/>
<path d="M680.0 339.0L683.5 339.0L691.5 344.0L695.5 351.5L693.0 359.0L689.0 364.0L683.5 365.5L680.0 365.5Z" fill="#14eeaa" stroke="#000" stroke-width="0.9" stroke-linejoin="round"/>
<path d="M680.0 340.5L683.5 340.5L690.0 345.5L692.8 351.5L689.0 358.0L683.5 361.5L680.0 361.5Z" fill="#33fb66" stroke="#000" stroke-width="0.9" stroke-linejoin="round"/>
<path d="M680.0 342.0L683.5 342.0L688.0 346.0L690.5 351.0L688.0 355.0L683.5 359.0L680.0 359.0Z" fill="#86f022" stroke="#000" stroke-width="0.9" stroke-linejoin="round"/>
<path d="M680.0 343.5L683.5 343.5L686.5 347.0L688.0 351.0L683.5 356.5L680.0 356.5Z" fill="#b8fb12" stroke="#000" stroke-width="0.9" stroke-linejoin="round"/>
<path d="M680.0 345.5L683.5 345.5L685.0 348.0L685.5 351.0L683.5 353.5L680.0 353.5Z" fill="#fbfb04" stroke="#000" stroke-width="0.9" stroke-linejoin="round"/>
<path d="M680.0 392.0L687.0 392.0L688.5 396.0L689.0 405.0L686.0 409.0L684.5 414.0L680.0 414.0Z" fill="#12c6c8" stroke="#000" stroke-width="0.9" stroke-linejoin="round"/>
<path d="M680.0 401.0L684.3 401.0L684.8 409.0L683.8 414.0L680.0 414.0Z" fill="#14eeaa" stroke="#000" stroke-width="0.9" stroke-linejoin="round"/>
<path d="M680.0 418.0L685.0 413.0L689.0 409.5L693.0 408.2L697.0 410.5L700.0 406.0L706.0 406.0L706.0 436.0L680.0 436.0Z" fill="#1f68f0" stroke="#000" stroke-width="0.9" stroke-linejoin="round"/>
<path d="M680.0 421.0L686.0 416.0L690.0 413.5L693.0 412.5L697.0 414.5L700.5 411.0L706.0 411.0L706.0 436.0L680.0 436.0Z" fill="#1a33f5" stroke="#000" stroke-width="0.9" stroke-linejoin="round"/>
</g>
<path d="M683.8 341.0L686.0 340.0L687.0 345.0L685.5 348.0L684.0 346.0Z" fill="#000"/>
</g>
<path d="M717.5 340.0L718.5 335.5L720.5 333.3L725.5 333.3L727.5 335.5L728.5 340.0L729.7 346.0L729.7 418.0L728.7 420.0L728.7 426.0L727.5 431.0L726.5 433.3L719.5 433.3L718.5 431.0L717.3 426.0L717.3 420.0L716.2 418.0L716.2 346.0Z" fill="#4a1080" stroke="#000" stroke-width="1.2" stroke-linejoin="round"/>
<path d="M718.3 346.5L727.7 346.5L727.9 419.0L718.1 419.0Z" fill="#1a1aa6" stroke="#000" stroke-width="0.8" stroke-linejoin="round"/>
<path d="M719.4 348.0L726.6 348.0L726.9 418.0L719.1 418.0Z" fill="#1a20b8" stroke="#000" stroke-width="0.5" stroke-linejoin="round"/>
<path d="M720.0 382.0L726.0 382.0L726.0 394.0L720.0 394.0Z" fill="#1a33f5" stroke="#000" stroke-width="0.5" stroke-linejoin="round"/>
<clipPath id="brE"><path d="M735.0 290.0L792.9 290.0L792.9 440.0L735.0 440.0Z"/></clipPath><g clip-path="url(#brE)">
<path d="M748.0 290.0L748.0 327.0L745.0 329.5L742.5 333.0L741.3 337.0L741.3 409.0L742.0 418.0L743.5 424.0L749.0 429.0L754.0 433.0L757.5 436.5L770.0 437.3L800.0 437.3L800.0 290.0Z" fill="#4a1080" stroke="#000" stroke-width="0.9" stroke-linejoin="round"/>
<path d="M748.9 290.0L748.9 327.4L746.1 330.2L743.6 333.8L742.4 337.9L742.4 407.3L743.2 415.7L744.9 421.4L750.4 426.4L755.6 430.3L759.6 433.9L771.6 434.9L800.0 434.8L800.0 290.0Z" fill="#1a1aa6" stroke="#000" stroke-width="0.9" stroke-linejoin="round"/>
<path d="M749.8 290.0L749.8 327.9L747.1 330.9L744.7 334.6L743.6 338.8L743.6 405.7L744.3 413.4L746.3 418.9L751.9 423.8L757.1 427.7L761.6 431.4L773.1 432.6L800.0 432.3L800.0 290.0Z" fill="#1a33f5" stroke="#000" stroke-width="0.9" stroke-linejoin="round"/>
<path d="M750.7 290.0L750.7 328.3L748.2 331.7L745.8 335.3L744.7 339.7L744.7 404.0L745.5 411.2L747.7 416.3L753.3 421.2L758.7 425.0L763.7 428.8L774.7 430.2L800.0 429.9L800.0 290.0Z" fill="#1f68f0" stroke="#000" stroke-width="0.9" stroke-linejoin="round"/>
<path d="M751.6 290.0L751.6 328.8L749.2 332.4L746.9 336.1L745.8 340.6L745.8 402.3L746.7 408.9L749.1 413.8L754.8 418.6L760.2 422.3L765.7 426.3L776.2 427.8L800.0 427.4L800.0 290.0Z" fill="#1aa6f0" stroke="#000" stroke-width="0.9" stroke-linejoin="round"/>
<path d="M752.4 290.0L752.4 329.2L750.3 333.1L748.1 336.9L747.0 341.4L747.0 400.7L747.8 406.6L750.4 411.2L756.2 415.9L761.8 419.7L767.8 423.7L777.8 425.5L800.0 424.9L800.0 290.0Z" fill="#12c6c8" stroke="#000" stroke-width="0.9" stroke-linejoin="round"/>
<path d="M753.3 290.0L753.3 329.7L751.3 333.8L749.2 337.7L748.1 342.3L748.1 399.0L749.0 404.3L751.8 408.7L757.7 413.3L763.3 417.0L769.8 421.2L779.3 423.1L800.0 422.4L800.0 290.0Z" fill="#14eeaa" stroke="#000" stroke-width="0.9" stroke-linejoin="round"/>
<path d="M754.2 290.0L754.2 330.1L752.4 334.6L750.3 338.4L749.2 343.2L749.2 397.3L750.2 402.1L753.2 406.1L759.1 410.7L764.9 414.3L771.9 418.6L780.9 420.7L800.0 420.0L800.0 290.0Z" fill="#33fb66" stroke="#000" stroke-width="0.9" stroke-linejoin="round"/>
<path d="M755.1 290.0L755.1 330.6L753.4 335.3L751.4 339.2L750.4 344.1L750.4 395.7L751.3 399.8L754.6 403.6L760.6 408.1L766.4 411.7L773.9 416.1L782.4 418.4L800.0 417.5L800.0 290.0Z" fill="#86f022" stroke="#000" stroke-width="0.9" stroke-linejoin="round"/>
<path d="M756.0 290.0L756.0 331.0L754.5 336.0L752.5 340.0L751.5 345.0L751.5 394.0L752.5 397.5L756.0 401.0L762.0 405.5L768.0 409.0L776.0 413.5L784.0 416.0L800.0 415.0L800.0 290.0Z" fill="#b8fb12" stroke="#000" stroke-width="0.9" stroke-linejoin="round"/>
<clipPath id="brEi"><path d="M756.0 290.0L756.0 331.0L754.5 336.0L752.5 340.0L751.5 345.0L751.5 394.0L752.5 397.5L756.0 401.0L762.0 405.5L768.0 409.0L776.0 413.5L784.0 416.0L800.0 415.0L800.0 290.0Z"/></clipPath><g clip-path="url(#brEi)">
<path d="M735.0 285.0L800.0 285.0L800.0 445.0L735.0 445.0Z" fill="#fbfb04"/>
<path d="M750.0 295.0L800.0 295.0L800.0 346.0L750.0 346.0Z" fill="#1aa6f0"/>
<path d="M756.2 298.0L791.0 298.0L794.0 300.0L794.0 346.0L754.0 346.0L754.5 332.0L756.2 325.0L755.5 312.0Z" fill="#12c6c8" stroke="#000" stroke-width="0.9" stroke-linejoin="round"/>
<path d="M757.5 302.0L759.0 299.5L763.0 298.5L790.0 298.5L794.0 300.5L794.0 346.0L755.0 346.0L755.5 334.0L757.2 325.0L756.8 312.0Z" fill="#14eeaa" stroke="#000" stroke-width="0.9" stroke-linejoin="round"/>
<path d="M754.0 330.0L757.5 315.5L763.0 315.0L763.5 307.0L764.0 303.0L766.0 301.0L790.0 299.8L791.2 302.0L791.4 346.0L754.0 346.0Z" fill="#33fb66" stroke="#000" stroke-width="0.9" stroke-linejoin="round"/>
<path d="M754.0 336.0L757.5 326.0L763.0 324.0L765.5 322.0L766.0 315.0L766.5 307.0L767.5 303.5L769.5 302.0L789.5 300.5L790.4 303.0L790.7 346.0L754.0 346.0Z" fill="#86f022" stroke="#000" stroke-width="0.9" stroke-linejoin="round"/>
<path d="M754.0 342.0L758.0 334.5L764.0 332.0L766.5 329.0L768.5 322.0L770.0 312.0L771.0 307.0L772.5 303.5L774.0 302.5L789.0 301.2L789.8 304.0L790.1 346.0L754.0 346.0Z" fill="#b8fb12" stroke="#000" stroke-width="0.9" stroke-linejoin="round"/>
<path d="M754.0 344.0L758.2 336.0L764.5 333.2L767.2 330.2L769.2 323.0L770.8 313.0L772.0 307.5L773.2 304.5L774.5 303.2L788.5 301.8L789.2 304.5L789.6 352.0L754.0 352.0Z" fill="#fbfb04" stroke="#000" stroke-width="0.9" stroke-linejoin="round"/>
<path d="M757.0 345.5L762.0 340.5L765.0 342.0L768.0 335.0L769.0 330.0L771.0 322.0L773.0 314.0L777.0 310.0L778.5 305.0L780.0 303.5L786.0 303.0L787.5 305.0L788.0 322.0L789.0 346.0L792.0 346.0L792.0 350.0L790.0 351.0L789.0 347.0L782.0 347.5L778.0 345.5L774.0 346.5L770.0 351.0L768.0 356.0L766.0 363.0L764.5 369.0L762.0 369.5L759.0 372.0L755.0 372.0L750.0 374.5L750.0 352.0Z" fill="#ffd000" stroke="#000" stroke-width="0.9" stroke-linejoin="round"/>
<path d="M774.0 321.0L779.0 316.0L783.0 314.5L784.5 321.0L786.5 329.0L787.0 335.0L784.5 340.0L781.0 342.0L776.0 339.0L771.5 335.0L772.0 326.0Z" fill="#ffa602" stroke="#000" stroke-width="0.9" stroke-linejoin="round"/>
<path d="M776.5 339.0L784.5 339.0L784.0 341.0L781.0 342.5L778.0 341.2Z" fill="#ffa602" stroke="#000" stroke-width="0.9" stroke-linejoin="round"/>
<path d="M752.5 358.5L754.5 355.5L757.0 358.5L754.5 361.5Z" fill="#ffd000" stroke="#000" stroke-width="0.9" stroke-linejoin="round"/>
<path d="M773.5 356.0L776.8 351.0L781.0 352.5L784.2 352.0L788.0 356.8L789.0 363.0L788.0 370.3L784.7 372.5L781.0 375.0L778.7 372.0L774.6 369.8L773.0 364.0Z" fill="#b8fb12" stroke="#000" stroke-width="0.9" stroke-linejoin="round"/>
<path d="M774.0 356.0L777.0 351.5L781.0 353.0L784.0 352.5L787.5 357.0L788.5 363.0L787.5 370.0L784.5 372.0L781.0 374.5L779.0 371.5L775.0 369.5L773.5 364.0Z" fill="#86f022" stroke="#000" stroke-width="0.9" stroke-linejoin="round"/>
<path d="M750.0 383.5L755.2 382.5L758.5 385.8L760.5 394.5L760.5 393.0L763.5 401.0L768.5 405.5L772.5 407.0L775.5 412.5L779.5 414.5L784.5 412.0L788.5 409.0L790.5 403.0L791.0 388.0L800.0 388.0L800.0 428.0L750.0 428.0Z" fill="#b8fb12" stroke="#000" stroke-width="0.9" stroke-linejoin="round"/>
<path d="M750.0 384.0L755.0 383.0L758.0 386.0L760.0 394.0L751.0 396.0L756.0 401.0L762.0 406.0L768.0 409.0L773.0 413.0L778.0 416.0L784.0 416.0L790.0 414.0L791.5 408.0L800.0 408.0L800.0 428.0L750.0 428.0Z" fill="#86f022" stroke="#000" stroke-width="0.9" stroke-linejoin="round"/>
<path d="M764.5 392.0L768.0 384.0L771.0 379.5L774.0 384.0L778.0 381.5L784.0 380.5L788.0 383.0L790.0 388.0L790.5 394.0L790.0 394.0L789.0 399.0L786.0 403.0L781.0 405.0L777.0 402.0L772.0 400.0L768.0 398.0L766.0 394.0L764.5 392.0Z" fill="#ffd000" stroke="#000" stroke-width="0.9" stroke-linejoin="round"/>
</g>
<path d="M791.2 296.5L792.8 296.5L792.8 346.0L792.8 437.0L791.6 437.0L791.6 388.0L791.9 332.0L792.0 312.0Z" fill="#000"/>
<path d="M750.5 325.0L754.0 329.0L752.5 337.0L751.5 346.0L751.5 346.0L751.5 394.0L750.5 392.0L748.5 401.0L746.0 400.0L745.0 392.0L744.8 394.0L744.8 346.0L746.0 338.0L748.5 332.0Z" fill="#000"/>
<path d="M748.5 296.5L751.0 296.5L751.0 328.0L748.5 328.0Z" fill="#1a1aa6"/>
<path d="M750.8 296.5L753.2 296.5L753.2 327.0L750.8 328.0Z" fill="#1a33f5" stroke="#000" stroke-width="0.6" stroke-linejoin="round"/>
<path d="M753.0 296.8L754.6 297.0L754.6 325.0L753.0 326.5Z" fill="#1f68f0" stroke="#000" stroke-width="0.6" stroke-linejoin="round"/>
<path d="M754.4 297.2L755.8 297.6L755.6 324.0L754.4 325.0Z" fill="#1aa6f0" stroke="#000" stroke-width="0.6" stroke-linejoin="round"/>
<path d="M748.1 296.5L748.1 329.0" fill="none" stroke="#000" stroke-width="1.2" stroke-linejoin="round"/>
</g>
</g>
<rect x="547.5" y="296.5" width="269" height="189" fill="none" stroke="#000" stroke-width="1"/>
<path d="M614.5 296.5v4.5M614.5 485.5v-4.5M681.5 296.5v4.5M681.5 485.5v-4.5M748.5 296.5v4.5M748.5 485.5v-4.5M547.5 485.5h6.5M816.5 485.5h-6.5M547.5 482.5h3.5M816.5 482.5h-3.5M547.5 479.5h3.5M816.5 479.5h-3.5M547.5 476.5h3.5M816.5 476.5h-3.5M547.5 472.5h3.5M816.5 472.5h-3.5M547.5 469.5h3.5M816.5 469.5h-3.5M547.5 466.5h3.5M816.5 466.5h-3.5M547.5 463.5h3.5M816.5 463.5h-3.5M547.5 460.5h3.5M816.5 460.5h-3.5M547.5 457.5h3.5M816.5 457.5h-3.5M547.5 454.5h6.5M816.5 454.5h-6.5M547.5 450.5h3.5M816.5 450.5h-3.5M547.5 447.5h3.5M816.5 447.5h-3.5M547.5 444.5h3.5M816.5 444.5h-3.5M547.5 441.5h3.5M816.5 441.5h-3.5M547.5 438.5h3.5M816.5 438.5h-3.5M547.5 435.5h3.5M816.5 435.5h-3.5M547.5 431.5h3.5M816.5 431.5h-3.5M547.5 428.5h3.5M816.5 428.5h-3.5M547.5 425.5h3.5M816.5 425.5h-3.5M547.5 422.5h6.5M816.5 422.5h-6.5M547.5 419.5h3.5M816.5 419.5h-3.5M547.5 416.5h3.5M816.5 416.5h-3.5M547.5 413.5h3.5M816.5 413.5h-3.5M547.5 409.5h3.5M816.5 409.5h-3.5M547.5 406.5h3.5M816.5 406.5h-3.5M547.5 403.5h3.5M816.5 403.5h-3.5M547.5 400.5h3.5M816.5 400.5h-3.5M547.5 397.5h3.5M816.5 397.5h-3.5M547.5 394.5h3.5M816.5 394.5h-3.5M547.5 391.5h6.5M816.5 391.5h-6.5M547.5 387.5h3.5M816.5 387.5h-3.5M547.5 384.5h3.5M816.5 384.5h-3.5M547.5 381.5h3.5M816.5 381.5h-3.5M547.5 378.5h3.5M816.5 378.5h-3.5M547.5 375.5h3.5M816.5 375.5h-3.5M547.5 372.5h3.5M816.5 372.5h-3.5M547.5 368.5h3.5M816.5 368.5h-3.5M547.5 365.5h3.5M816.5 365.5h-3.5M547.5 362.5h3.5M816.5 362.5h-3.5M547.5 359.5h6.5M816.5 359.5h-6.5M547.5 356.5h3.5M816.5 356.5h-3.5M547.5 353.5h3.5M816.5 353.5h-3.5M547.5 350.5h3.5M816.5 350.5h-3.5M547.5 346.5h3.5M816.5 346.5h-3.5M547.5 343.5h3.5M816.5 343.5h-3.5M547.5 340.5h3.5M816.5 340.5h-3.5M547.5 337.5h3.5M816.5 337.5h-3.5M547.5 334.5h3.5M816.5 334.5h-3.5M547.5 331.5h3.5M816.5 331.5h-3.5M547.5 328.5h6.5M816.5 328.5h-6.5M547.5 324.5h3.5M816.5 324.5h-3.5M547.5 321.5h3.5M816.5 321.5h-3.5M547.5 318.5h3.5M816.5 318.5h-3.5M547.5 315.5h3.5M816.5 315.5h-3.5M547.5 312.5h3.5M816.5 312.5h-3.5M547.5 309.5h3.5M816.5 309.5h-3.5M547.5 305.5h3.5M816.5 305.5h-3.5M547.5 302.5h3.5M816.5 302.5h-3.5M547.5 299.5h3.5M816.5 299.5h-3.5M547.5 296.5h6.5M816.5 296.5h-6.5" stroke="#000" stroke-width="1" fill="none" shape-rendering="crispEdges"/>
<text x="589.47" y="290.00" textLength="185.07" lengthAdjust="spacingAndGlyphs" xml:space="preserve">Inverted Winds Zonal (warmside)</text>
<text class="n" transform="translate(538.54,499.30) scale(0.78,1)" x="1.80 8.09 15.74">-90</text>
<text class="n" transform="translate(611.76,499.30) scale(0.78,1)" x="0.44">0</text>
<text class="n" transform="translate(676.03,499.30) scale(0.78,1)" x="0.44 8.09">90</text>
<text class="n" transform="translate(746.26,499.30) scale(0.78,1)" x="0.44">0</text>
<text class="n" transform="translate(807.54,499.30) scale(0.78,1)" x="1.80 8.09 15.74">-90</text>
<text x="655.13" y="512.50" textLength="53.73" lengthAdjust="spacingAndGlyphs" xml:space="preserve">Lat (deg)</text>
<text class="n" transform="translate(531.06,484.80) scale(0.78,1)" x="0.44 8.09">60</text>
<text class="n" transform="translate(531.06,458.00) scale(0.78,1)" x="0.44 8.09">70</text>
<text class="n" transform="translate(531.06,426.50) scale(0.78,1)" x="0.44 8.09">80</text>
<text class="n" transform="translate(531.06,395.00) scale(0.78,1)" x="0.44 8.09">90</text>
<text class="n" transform="translate(525.09,363.50) scale(0.78,1)" x="0.44 8.09 15.74">100</text>
<text class="n" transform="translate(525.09,332.00) scale(0.78,1)" x="0.44 8.09 15.74">110</text>
<text class="n" transform="translate(525.09,302.50) scale(0.78,1)" x="0.44 8.09 15.74">120</text>
<text x="513.51" y="325.50" textLength="5.97" lengthAdjust="spacingAndGlyphs" xml:space="preserve">A</text>
<text x="513.51" y="335.55" textLength="5.97" lengthAdjust="spacingAndGlyphs" xml:space="preserve">l</text>
<text x="513.51" y="345.60" textLength="5.97" lengthAdjust="spacingAndGlyphs" xml:space="preserve">t</text>
<text x="513.51" y="355.65" textLength="5.97" lengthAdjust="spacingAndGlyphs" xml:space="preserve">i</text>
<text x="513.51" y="365.70" textLength="5.97" lengthAdjust="spacingAndGlyphs" xml:space="preserve">t</text>
<text x="513.51" y="375.75" textLength="5.97" lengthAdjust="spacingAndGlyphs" xml:space="preserve">u</text>
<text x="513.51" y="385.80" textLength="5.97" lengthAdjust="spacingAndGlyphs" xml:space="preserve">d</text>
<text x="513.51" y="395.85" textLength="5.97" lengthAdjust="spacingAndGlyphs" xml:space="preserve">e</text>
<text x="513.51" y="415.95" textLength="5.97" lengthAdjust="spacingAndGlyphs" xml:space="preserve">(</text>
<text x="513.51" y="426.00" textLength="5.97" lengthAdjust="spacingAndGlyphs" xml:space="preserve">k</text>
<text x="513.51" y="436.05" textLength="5.97" lengthAdjust="spacingAndGlyphs" xml:space="preserve">m</text>
<text x="513.51" y="446.10" textLength="5.97" lengthAdjust="spacingAndGlyphs" xml:space="preserve">)</text>
<rect x="845.5" y="476.10" width="28" height="9.70" fill="#23083e"/>
<rect x="845.5" y="466.70" width="28" height="9.70" fill="#4a1080"/>
<rect x="845.5" y="457.30" width="28" height="9.70" fill="#1a1aa6"/>
<rect x="845.5" y="447.90" width="28" height="9.70" fill="#1a33f5"/>
<rect x="845.5" y="438.50" width="28" height="9.70" fill="#1f68f0"/>
<rect x="845.5" y="429.10" width="28" height="9.70" fill="#1aa6f0"/>
<rect x="845.5" y="419.70" width="28" height="9.70" fill="#12c6c8"/>
<rect x="845.5" y="410.30" width="28" height="9.70" fill="#14eeaa"/>
<rect x="845.5" y="400.90" width="28" height="9.70" fill="#33fb66"/>
<rect x="845.5" y="391.50" width="28" height="9.70" fill="#86f022"/>
<rect x="845.5" y="382.10" width="28" height="9.70" fill="#b8fb12"/>
<rect x="845.5" y="372.70" width="28" height="9.70" fill="#fbfb04"/>
<rect x="845.5" y="363.30" width="28" height="9.70" fill="#ffd000"/>
<rect x="845.5" y="353.90" width="28" height="9.70" fill="#ffa602"/>
<rect x="845.5" y="344.50" width="28" height="9.70" fill="#e07a28"/>
<rect x="845.5" y="335.10" width="28" height="9.70" fill="#c6504e"/>
<rect x="845.5" y="325.70" width="28" height="9.70" fill="#d82a60"/>
<rect x="845.5" y="316.30" width="28" height="9.70" fill="#fb0468"/>
<rect x="845.5" y="306.90" width="28" height="9.70" fill="#fb35ac"/>
<rect x="845.5" y="297.50" width="28" height="9.70" fill="#fb66fb"/>
<rect x="845.5" y="297.5" width="28" height="188" fill="none" stroke="#000"/>
<path d="M873.5 320.50h-7M873.5 344.50h-7M873.5 367.50h-7M873.5 391.50h-7M873.5 414.50h-7M873.5 438.50h-7M873.5 461.50h-7" stroke="#000" stroke-width="1" fill="none" shape-rendering="crispEdges"/>
<text class="n" transform="translate(884.65,299.30) scale(0.78,1)" x="0.44 8.09 15.74 25.09 31.05">200.0</text>
<text class="n" transform="translate(884.65,322.80) scale(0.78,1)" x="0.44 8.09 15.74 25.09 31.05">150.0</text>
<text class="n" transform="translate(884.65,346.30) scale(0.78,1)" x="0.44 8.09 15.74 25.09 31.05">100.0</text>
<text class="n" transform="translate(890.62,369.80) scale(0.78,1)" x="0.44 8.09 17.44 23.40">50.0</text>
<text class="n" transform="translate(896.59,393.30) scale(0.78,1)" x="0.44 9.78 15.74">0.0</text>
<text class="n" transform="translate(884.65,416.80) scale(0.78,1)" x="1.80 8.09 15.74 25.09 31.05">-50.0</text>
<text class="n" transform="translate(878.68,440.30) scale(0.78,1)" x="1.80 8.09 15.74 23.40 32.75 38.70">-100.0</text>
<text class="n" transform="translate(878.68,463.80) scale(0.78,1)" x="1.80 8.09 15.74 23.40 32.75 38.70">-150.0</text>
<text class="n" transform="translate(878.68,487.30) scale(0.78,1)" x="1.80 8.09 15.74 23.40 32.75 38.70">-200.0</text>
<text x="577.02" y="524.30" textLength="208.95" lengthAdjust="spacingAndGlyphs" xml:space="preserve">2009347v01 Wed Aug 10 08:57:41 2016</text>
</svg></body></html>
